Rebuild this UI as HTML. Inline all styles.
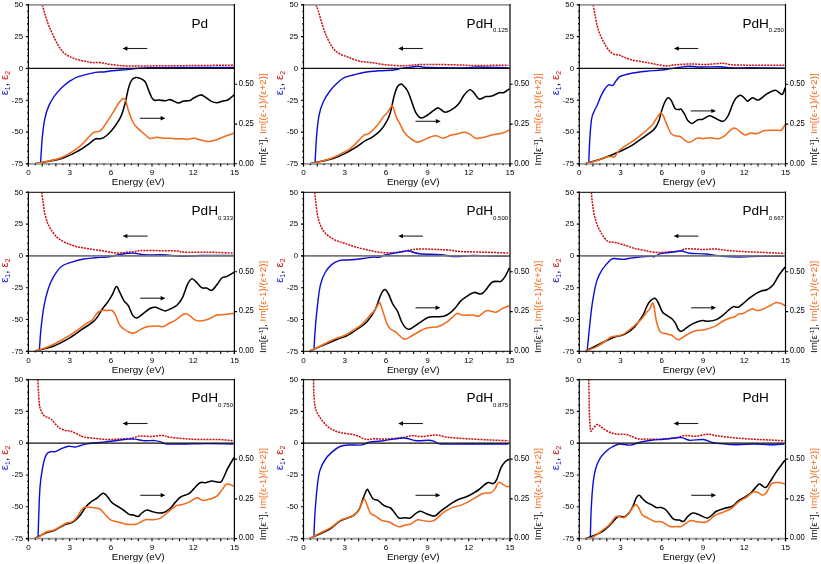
<!DOCTYPE html>
<html><head><meta charset="utf-8"><style>
html,body{margin:0;padding:0;background:#fff;}
svg{display:block;will-change:transform;}
</style></head><body>
<svg width="821" height="564" viewBox="0 0 821 564" font-family='"Liberation Sans", sans-serif' fill="#000">
<rect width="821" height="564" fill="#fff"/>
<path d="M42.3,5.0 C43.2,7.9 46.0,17.9 47.6,22.6 C49.2,27.3 50.4,29.3 52.1,33.1 C53.9,36.9 56.2,42.0 58.1,45.2 C60.0,48.4 61.5,50.4 63.2,52.2 C64.9,54.0 66.7,55.0 68.5,56.0 C70.3,57.0 71.7,57.6 73.8,58.4 C75.9,59.1 79.2,60.0 81.3,60.5 C83.4,61.0 84.8,61.1 86.6,61.5 C88.4,61.9 89.7,62.4 91.9,62.6 C94.1,62.8 96.8,62.3 99.9,62.6 C103.1,62.9 106.2,63.9 110.8,64.5 C115.4,65.1 120.8,65.8 127.4,66.0 C134.0,66.2 140.2,66.0 150.6,65.9 C161.0,65.8 176.1,65.7 190.0,65.6 C203.9,65.5 226.7,65.2 234.0,65.1" fill="none" stroke="#cc0a0a" stroke-width="1.5" stroke-dasharray="2 1"/>
<path d="M40.6,162.6 C40.9,158.4 41.6,144.6 42.3,137.3 C43.0,130.0 43.7,124.1 44.8,118.8 C45.9,113.5 47.3,109.3 49.0,105.4 C50.7,101.5 52.8,98.2 54.9,95.3 C57.0,92.3 59.2,90.1 61.7,87.7 C64.2,85.3 67.3,82.7 70.1,80.9 C72.9,79.1 74.3,78.1 78.5,76.7 C82.7,75.3 91.1,73.2 95.3,72.4 C99.5,71.6 101.0,72.3 103.8,72.0 C106.6,71.7 108.3,71.2 112.2,70.8 C116.1,70.4 121.0,70.1 127.3,69.6 C133.6,69.1 132.2,68.1 150.0,67.8 C167.8,67.5 220.0,67.5 234.0,67.5" fill="none" stroke="#0d0dd8" stroke-width="1.4" />
<path d="M35.6,163.4 C40.0,162.6 54.6,160.5 61.7,158.4 C68.9,156.3 74.0,153.2 78.5,150.8 C83.0,148.4 85.8,146.1 88.6,144.1 C91.4,142.1 93.3,139.9 95.3,139.0 C97.3,138.1 98.7,139.1 100.4,138.7 C102.1,138.3 103.4,138.0 105.4,136.5 C107.4,135.0 109.7,133.0 112.2,129.8 C114.7,126.6 118.5,121.4 120.6,117.1 C122.7,112.8 123.7,108.5 125.0,103.7 C126.3,98.9 127.3,92.4 128.4,88.5 C129.5,84.6 130.4,81.9 131.7,80.1 C132.9,78.3 134.5,77.9 135.9,77.6 C137.3,77.3 138.6,77.7 140.2,78.4 C141.8,79.1 143.8,79.8 145.2,81.8 C146.6,83.8 147.5,87.5 148.6,90.2 C149.7,92.9 150.9,96.1 151.9,97.8 C152.9,99.5 153.4,99.9 154.5,100.3 C155.6,100.7 156.9,99.9 158.7,100.0 C160.5,100.1 163.6,100.9 165.4,100.8 C167.2,100.7 168.2,99.5 169.6,99.6 C171.0,99.6 172.3,100.5 173.8,101.1 C175.3,101.7 176.8,103.0 178.5,103.0 C180.2,103.0 182.0,101.5 183.9,101.1 C185.8,100.7 188.1,101.1 189.8,100.6 C191.5,100.0 192.2,98.8 194.0,97.8 C195.8,96.8 199.0,95.1 200.8,94.9 C202.6,94.8 203.3,95.9 205.0,96.9 C206.7,97.9 208.9,100.1 210.9,101.1 C212.9,102.1 214.9,102.8 216.8,102.8 C218.8,102.8 220.8,101.6 222.6,101.1 C224.4,100.6 225.8,101.0 227.7,100.0 C229.6,99.0 233.0,95.8 234.1,94.9" fill="none" stroke="#000" stroke-width="1.55" />
<path d="M35.6,163.4 C37.1,163.1 40.4,162.8 44.8,161.8 C49.1,160.8 56.1,159.9 61.7,157.5 C67.3,155.1 74.0,150.8 78.5,147.4 C83.0,144.0 86.1,139.8 88.6,137.3 C91.1,134.8 92.0,133.3 93.7,132.3 C95.4,131.3 97.3,132.0 98.7,131.4 C100.1,130.8 99.8,131.8 102.1,128.9 C104.3,126.0 109.4,118.2 112.2,113.8 C115.0,109.4 117.1,105.3 118.9,102.8 C120.7,100.3 122.0,99.0 123.1,98.6 C124.2,98.2 124.7,98.3 125.6,100.3 C126.5,102.3 127.1,106.6 128.4,110.4 C129.7,114.2 131.7,119.9 133.4,123.0 C135.1,126.1 136.5,126.9 138.5,128.9 C140.5,130.9 143.4,133.2 145.2,134.8 C147.0,136.4 148.3,137.6 149.4,138.2 C150.5,138.8 150.6,138.3 151.9,138.2 C153.2,138.0 155.0,137.3 157.0,137.3 C159.0,137.3 161.4,138.0 163.7,138.2 C165.9,138.3 168.5,138.1 170.5,138.2 C172.5,138.3 173.6,138.9 175.5,139.0 C177.4,139.1 180.2,138.6 182.2,138.7 C184.2,138.8 185.3,139.5 187.3,139.4 C189.3,139.3 191.8,138.1 194.0,138.2 C196.2,138.3 198.4,139.3 200.8,139.9 C203.2,140.5 205.8,141.5 208.3,141.5 C210.8,141.5 213.2,140.7 215.9,139.9 C218.6,139.1 221.3,137.6 224.3,136.5 C227.3,135.4 232.5,133.7 234.1,133.1" fill="none" stroke="#f26a1b" stroke-width="1.55" />
<line x1="25.9" y1="4.85" x2="234.4" y2="4.85" stroke="#999" stroke-width="1.7"/>
<line x1="25.9" y1="163.85" x2="234.4" y2="163.85" stroke="#999" stroke-width="1.6"/>
<line x1="25.9" y1="68.45" x2="234.4" y2="68.45" stroke="#111" stroke-width="1.2"/>
<line x1="28.4" y1="4.0" x2="28.4" y2="166.5" stroke="#000" stroke-width="1.2"/>
<line x1="234.4" y1="4.0" x2="234.4" y2="166.5" stroke="#000" stroke-width="1.2"/>
<path d="M25.9,4.8H28.4 M27.1,11.2H28.4 M27.1,17.6H28.4 M27.1,23.9H28.4 M27.1,30.3H28.4 M25.9,36.6H28.4 M27.1,43.0H28.4 M27.1,49.4H28.4 M27.1,55.7H28.4 M27.1,62.1H28.4 M25.9,68.5H28.4 M27.1,74.8H28.4 M27.1,81.2H28.4 M27.1,87.5H28.4 M27.1,93.9H28.4 M25.9,100.2H28.4 M27.1,106.6H28.4 M27.1,113.0H28.4 M27.1,119.3H28.4 M27.1,125.7H28.4 M25.9,132.1H28.4 M27.1,138.4H28.4 M27.1,144.8H28.4 M27.1,151.1H28.4 M27.1,157.5H28.4 M25.9,163.8H28.4 M28.4,163.8V166.4 M35.3,163.8V165.2 M42.2,163.8V166.4 M49.0,163.8V165.2 M55.9,163.8V166.4 M62.8,163.8V165.2 M69.7,163.8V166.4 M76.5,163.8V165.2 M83.4,163.8V166.4 M90.2,163.8V165.2 M97.1,163.8V166.4 M104.0,163.8V165.2 M110.9,163.8V166.4 M117.7,163.8V165.2 M124.6,163.8V166.4 M131.4,163.8V165.2 M138.3,163.8V166.4 M145.2,163.8V165.2 M152.0,163.8V166.4 M158.9,163.8V165.2 M165.8,163.8V166.4 M172.6,163.8V165.2 M179.5,163.8V166.4 M186.4,163.8V165.2 M193.2,163.8V166.4 M200.1,163.8V165.2 M207.0,163.8V166.4 M213.8,163.8V165.2 M220.7,163.8V166.4 M227.6,163.8V165.2 M234.4,163.8V166.4 M234.4,163.8H237.1 M234.4,124.1H237.1 M234.4,84.3H237.1" stroke="#000" stroke-width="1.1" fill="none"/>
<text x="23.1" y="7.0" text-anchor="end" font-size="7.8">50</text>
<text x="23.1" y="38.9" text-anchor="end" font-size="7.8">25</text>
<text x="23.1" y="70.7" text-anchor="end" font-size="7.8">0</text>
<text x="23.1" y="102.5" text-anchor="end" font-size="7.8">-25</text>
<text x="23.1" y="134.2" text-anchor="end" font-size="7.8">-50</text>
<text x="23.1" y="166.0" text-anchor="end" font-size="7.8">-75</text>
<text x="28.4" y="175.2" text-anchor="middle" font-size="8.1">0</text>
<text x="69.7" y="175.2" text-anchor="middle" font-size="8.1">3</text>
<text x="110.9" y="175.2" text-anchor="middle" font-size="8.1">6</text>
<text x="152.0" y="175.2" text-anchor="middle" font-size="8.1">9</text>
<text x="193.2" y="175.2" text-anchor="middle" font-size="8.1">12</text>
<text x="234.4" y="175.2" text-anchor="middle" font-size="8.1">15</text>
<text x="238.8" y="165.7" font-size="8.2" textLength="15.0" lengthAdjust="spacingAndGlyphs">0.00</text>
<text x="238.8" y="125.9" font-size="8.2" textLength="15.0" lengthAdjust="spacingAndGlyphs">0.25</text>
<text x="238.8" y="86.1" font-size="8.2" textLength="15.0" lengthAdjust="spacingAndGlyphs">0.50</text>
<text x="138.2" y="185.4" text-anchor="middle" font-size="9.9">Energy (eV)</text>
<text transform="translate(7.8,83.1) rotate(-90)" text-anchor="middle" font-size="11.5"><tspan fill="#0d0dd8">&#949;<tspan font-size="7" dy="1.8">1</tspan></tspan><tspan dy="-1.8">, </tspan><tspan fill="#cc0a0a">&#949;<tspan font-size="7" dy="1.8">2</tspan></tspan></text>
<text transform="translate(265.8,119.4) rotate(-90)" text-anchor="middle" font-size="9.8">Im[&#949;<tspan font-size="6" dy="-3">-1</tspan><tspan dy="3">], </tspan><tspan fill="#f26a1b">Im[(&#949;-1)/(&#949;+2)]</tspan></text>
<text x="191.5" y="27.5" font-size="13.6">Pd</text>
<line x1="147.3" y1="48.5" x2="125.6" y2="48.5" stroke="#222" stroke-width="1.1"/>
<path d="M122.6,48.5 L127.4,46.3 L127.4,50.7 Z" fill="#000"/>
<line x1="139.8" y1="118.3" x2="162.4" y2="118.3" stroke="#222" stroke-width="1.1"/>
<path d="M165.4,118.3 L160.6,116.1 L160.6,120.5 Z" fill="#000"/>
<path d="M315.8,5.0 C316.2,5.9 317.0,7.1 318.1,10.5 C319.2,13.9 321.1,21.1 322.6,25.6 C324.1,30.1 325.4,33.9 327.1,37.7 C328.9,41.5 331.1,45.6 333.1,48.2 C335.1,50.8 336.6,52.0 339.1,53.5 C341.6,55.0 344.9,56.0 348.2,57.2 C351.5,58.5 354.9,60.1 358.7,61.0 C362.5,61.9 366.3,61.9 370.8,62.5 C375.3,63.1 380.5,64.2 385.8,64.8 C391.1,65.3 398.5,65.7 402.4,65.8 C406.3,65.9 406.1,65.7 409.0,65.5 C411.9,65.3 414.8,64.7 419.6,64.5 C424.4,64.3 430.9,64.4 437.7,64.5 C444.5,64.6 453.9,64.8 460.2,65.0 C466.5,65.2 467.3,65.5 475.3,65.5 C483.3,65.5 502.9,65.2 508.4,65.2" fill="none" stroke="#cc0a0a" stroke-width="1.5" stroke-dasharray="2 1"/>
<path d="M315.1,162.3 C315.3,158.1 315.9,145.1 316.5,137.3 C317.1,129.5 317.9,121.4 319.0,115.5 C320.1,109.6 321.4,106.1 323.2,102.0 C325.0,97.9 327.6,94.1 329.9,91.0 C332.1,87.9 334.3,85.7 336.7,83.5 C339.1,81.3 341.4,79.0 344.2,77.6 C347.0,76.2 350.3,75.8 353.5,75.0 C356.7,74.2 359.4,73.2 363.6,72.5 C367.8,71.8 373.8,71.2 378.8,70.8 C383.9,70.4 390.0,70.5 393.9,70.0 C397.8,69.5 399.9,68.5 402.4,68.1 C404.9,67.7 406.4,67.8 409.0,67.5 C411.6,67.2 415.2,66.3 418.0,66.3 C420.8,66.3 421.1,67.0 425.6,67.3 C430.1,67.5 438.2,67.7 445.2,67.8 C452.2,67.9 462.5,67.9 467.8,67.8 C473.1,67.7 470.0,67.0 476.8,67.0 C483.6,67.0 503.1,67.7 508.4,67.8" fill="none" stroke="#0d0dd8" stroke-width="1.4" />
<path d="M310.6,163.5 C314.4,162.7 327.3,160.2 333.3,158.4 C339.3,156.6 342.9,154.5 346.8,152.5 C350.7,150.5 353.8,148.6 356.9,146.6 C360.0,144.6 362.8,142.2 365.3,140.7 C367.8,139.1 369.5,139.0 372.0,137.3 C374.5,135.6 377.9,133.4 380.4,130.6 C382.9,127.8 385.5,123.6 387.2,120.5 C388.9,117.4 389.4,116.0 390.5,112.1 C391.6,108.2 392.8,101.1 393.9,96.9 C395.0,92.7 396.2,88.9 397.3,86.8 C398.4,84.7 399.4,84.6 400.3,84.3 C401.2,84.0 401.3,83.7 402.5,84.8 C403.7,85.9 406.1,88.1 407.6,91.0 C409.2,93.9 410.4,98.3 411.8,102.0 C413.2,105.7 414.5,110.2 416.0,112.9 C417.5,115.6 419.2,117.6 421.0,118.0 C422.8,118.4 424.8,116.8 426.9,115.5 C429.0,114.2 431.8,111.7 433.7,110.4 C435.6,109.1 436.6,107.6 438.4,107.9 C440.2,108.2 442.6,111.7 444.6,112.1 C446.6,112.5 448.2,111.7 450.5,110.4 C452.8,109.1 455.9,107.0 458.1,104.5 C460.4,102.0 462.1,97.7 464.0,95.3 C465.9,92.9 467.9,90.5 469.4,89.9 C470.9,89.3 471.6,90.4 473.2,91.9 C474.8,93.4 477.0,98.2 479.1,99.0 C481.2,99.8 483.8,97.1 485.9,96.6 C488.0,96.1 489.6,96.8 491.8,96.1 C494.0,95.4 497.4,93.3 499.3,92.7 C501.2,92.1 501.8,93.3 503.5,92.7 C505.2,92.1 508.4,89.5 509.4,88.9" fill="none" stroke="#000" stroke-width="1.55" />
<path d="M310.6,163.5 C312.1,163.2 316.0,162.8 319.8,161.8 C323.6,160.8 329.4,159.1 333.3,157.5 C337.2,155.9 340.9,153.8 343.4,152.5 C345.9,151.2 346.5,151.4 348.5,150.0 C350.5,148.6 352.7,146.5 355.2,144.1 C357.7,141.7 361.2,137.5 363.6,135.7 C366.0,133.9 367.2,134.8 369.5,133.1 C371.8,131.4 374.7,128.4 377.1,125.6 C379.5,122.8 382.1,118.4 383.8,116.3 C385.5,114.2 385.9,114.6 387.2,112.9 C388.5,111.2 390.4,107.2 391.4,106.2 C392.4,105.2 392.3,105.2 393.1,107.0 C393.9,108.8 395.2,114.3 396.4,117.1 C397.5,119.9 398.7,121.4 400.0,123.9 C401.3,126.4 402.5,129.9 404.2,132.3 C405.9,134.7 408.0,136.6 410.1,138.2 C412.2,139.8 414.6,141.8 416.8,142.1 C419.1,142.4 421.4,140.8 423.6,139.9 C425.9,139.1 428.2,137.7 430.3,137.0 C432.4,136.3 434.1,135.5 436.2,135.7 C438.3,135.9 440.5,138.3 442.9,138.2 C445.3,138.1 448.1,136.0 450.5,135.3 C452.9,134.6 454.9,134.5 457.2,134.0 C459.4,133.5 462.0,132.4 464.0,132.3 C466.0,132.2 467.0,132.6 469.0,133.6 C471.0,134.6 473.3,137.6 475.8,138.2 C478.3,138.8 481.4,137.9 484.2,137.3 C487.0,136.7 489.5,135.5 492.6,134.8 C495.7,134.1 499.9,133.9 502.7,133.1 C505.5,132.3 508.3,130.4 509.4,129.8" fill="none" stroke="#f26a1b" stroke-width="1.55" />
<line x1="301.0" y1="4.85" x2="510.0" y2="4.85" stroke="#999" stroke-width="1.7"/>
<line x1="301.0" y1="163.85" x2="510.0" y2="163.85" stroke="#999" stroke-width="1.6"/>
<line x1="301.0" y1="68.45" x2="510.0" y2="68.45" stroke="#111" stroke-width="1.2"/>
<line x1="303.5" y1="4.0" x2="303.5" y2="166.5" stroke="#000" stroke-width="1.2"/>
<line x1="510.0" y1="4.0" x2="510.0" y2="166.5" stroke="#000" stroke-width="1.2"/>
<path d="M301.0,4.8H303.5 M302.2,11.2H303.5 M302.2,17.6H303.5 M302.2,23.9H303.5 M302.2,30.3H303.5 M301.0,36.6H303.5 M302.2,43.0H303.5 M302.2,49.4H303.5 M302.2,55.7H303.5 M302.2,62.1H303.5 M301.0,68.5H303.5 M302.2,74.8H303.5 M302.2,81.2H303.5 M302.2,87.5H303.5 M302.2,93.9H303.5 M301.0,100.2H303.5 M302.2,106.6H303.5 M302.2,113.0H303.5 M302.2,119.3H303.5 M302.2,125.7H303.5 M301.0,132.1H303.5 M302.2,138.4H303.5 M302.2,144.8H303.5 M302.2,151.1H303.5 M302.2,157.5H303.5 M301.0,163.8H303.5 M303.5,163.8V166.4 M310.4,163.8V165.2 M317.3,163.8V166.4 M324.1,163.8V165.2 M331.0,163.8V166.4 M337.9,163.8V165.2 M344.8,163.8V166.4 M351.7,163.8V165.2 M358.6,163.8V166.4 M365.4,163.8V165.2 M372.3,163.8V166.4 M379.2,163.8V165.2 M386.1,163.8V166.4 M393.0,163.8V165.2 M399.9,163.8V166.4 M406.8,163.8V165.2 M413.6,163.8V166.4 M420.5,163.8V165.2 M427.4,163.8V166.4 M434.3,163.8V165.2 M441.2,163.8V166.4 M448.1,163.8V165.2 M454.9,163.8V166.4 M461.8,163.8V165.2 M468.7,163.8V166.4 M475.6,163.8V165.2 M482.5,163.8V166.4 M489.4,163.8V165.2 M496.2,163.8V166.4 M503.1,163.8V165.2 M510.0,163.8V166.4 M510.0,163.8H512.7 M510.0,124.1H512.7 M510.0,84.3H512.7" stroke="#000" stroke-width="1.1" fill="none"/>
<text x="298.2" y="7.0" text-anchor="end" font-size="7.8">50</text>
<text x="298.2" y="38.9" text-anchor="end" font-size="7.8">25</text>
<text x="298.2" y="70.7" text-anchor="end" font-size="7.8">0</text>
<text x="298.2" y="102.5" text-anchor="end" font-size="7.8">-25</text>
<text x="298.2" y="134.2" text-anchor="end" font-size="7.8">-50</text>
<text x="298.2" y="166.0" text-anchor="end" font-size="7.8">-75</text>
<text x="303.5" y="175.2" text-anchor="middle" font-size="8.1">0</text>
<text x="344.8" y="175.2" text-anchor="middle" font-size="8.1">3</text>
<text x="386.1" y="175.2" text-anchor="middle" font-size="8.1">6</text>
<text x="427.4" y="175.2" text-anchor="middle" font-size="8.1">9</text>
<text x="468.7" y="175.2" text-anchor="middle" font-size="8.1">12</text>
<text x="510.0" y="175.2" text-anchor="middle" font-size="8.1">15</text>
<text x="514.3" y="165.7" font-size="8.2" textLength="15.0" lengthAdjust="spacingAndGlyphs">0.00</text>
<text x="514.3" y="125.9" font-size="8.2" textLength="15.0" lengthAdjust="spacingAndGlyphs">0.25</text>
<text x="514.3" y="86.1" font-size="8.2" textLength="15.0" lengthAdjust="spacingAndGlyphs">0.50</text>
<text x="413.3" y="185.4" text-anchor="middle" font-size="9.9">Energy (eV)</text>
<text transform="translate(282.9,83.1) rotate(-90)" text-anchor="middle" font-size="11.5"><tspan fill="#0d0dd8">&#949;<tspan font-size="7" dy="1.8">1</tspan></tspan><tspan dy="-1.8">, </tspan><tspan fill="#cc0a0a">&#949;<tspan font-size="7" dy="1.8">2</tspan></tspan></text>
<text transform="translate(541.4,119.4) rotate(-90)" text-anchor="middle" font-size="9.8">Im[&#949;<tspan font-size="6" dy="-3">-1</tspan><tspan dy="3">], </tspan><tspan fill="#f26a1b">Im[(&#949;-1)/(&#949;+2)]</tspan></text>
<text x="466.6" y="27.5" font-size="13.6">PdH<tspan font-size="6" dy="4.8">0.125</tspan></text>
<line x1="422.9" y1="48.5" x2="401.2" y2="48.5" stroke="#222" stroke-width="1.1"/>
<path d="M398.2,48.5 L403.0,46.3 L403.0,50.7 Z" fill="#000"/>
<line x1="415.5" y1="121.3" x2="437.7" y2="121.3" stroke="#222" stroke-width="1.1"/>
<path d="M440.7,121.3 L435.9,119.1 L435.9,123.5 Z" fill="#000"/>
<path d="M593.3,5.0 C593.5,6.4 594.2,10.2 594.8,13.6 C595.4,17.0 596.2,22.1 597.1,25.6 C598.0,29.1 598.9,31.6 600.1,34.6 C601.4,37.6 603.1,41.1 604.6,43.7 C606.1,46.4 607.6,48.8 609.1,50.5 C610.6,52.2 612.0,53.5 613.6,54.2 C615.2,55.0 617.1,54.5 618.9,55.0 C620.7,55.5 622.1,56.4 624.2,57.2 C626.3,58.0 628.7,59.1 631.7,59.9 C634.7,60.6 638.5,61.0 642.3,61.7 C646.1,62.4 650.3,63.3 654.3,64.0 C658.3,64.7 663.3,65.6 666.3,65.8 C669.3,66.0 670.3,65.3 672.4,65.1 C674.5,64.9 675.9,64.7 679.0,64.5 C682.1,64.3 686.6,64.0 691.1,64.0 C695.6,64.0 700.8,64.6 706.1,64.5 C711.4,64.4 718.4,63.2 722.7,63.3 C727.0,63.3 726.9,64.5 731.7,64.8 C736.5,65.1 742.5,65.1 751.3,65.2 C760.1,65.3 778.9,65.2 784.4,65.2" fill="none" stroke="#cc0a0a" stroke-width="1.5" stroke-dasharray="2 1"/>
<path d="M588.8,161.8 C589.0,157.7 589.4,144.5 589.9,137.3 C590.4,130.1 590.9,123.2 591.6,118.8 C592.3,114.4 593.2,113.6 594.2,111.2 C595.2,108.8 596.4,107.0 597.5,104.5 C598.6,102.0 599.6,98.8 600.9,96.1 C602.2,93.4 603.8,90.4 605.1,88.5 C606.4,86.6 607.2,85.3 608.5,84.8 C609.8,84.3 611.5,86.2 612.7,85.5 C614.0,84.8 614.8,82.4 616.0,80.9 C617.2,79.4 618.0,77.6 620.2,76.4 C622.5,75.2 625.1,74.6 629.5,73.7 C633.9,72.8 640.8,71.9 646.3,71.3 C651.8,70.7 656.8,70.6 662.3,70.0 C667.8,69.4 674.7,68.1 679.0,67.5 C683.3,66.9 684.7,66.4 688.0,66.3 C691.3,66.2 693.1,66.9 698.6,67.0 C704.1,67.1 716.2,66.6 721.2,66.7 C726.2,66.8 723.7,67.6 728.7,67.8 C733.7,68.0 742.0,67.8 751.3,67.8 C760.6,67.8 778.9,68.0 784.4,68.1" fill="none" stroke="#0d0dd8" stroke-width="1.4" />
<path d="M585.7,163.5 C588.6,162.6 599.1,159.6 603.3,158.2 C607.5,156.8 608.6,156.3 611.0,155.3 C613.4,154.3 615.5,153.3 617.8,152.3 C620.1,151.3 622.0,150.6 624.6,149.3 C627.2,148.0 630.4,146.4 633.2,144.6 C636.1,142.8 639.5,140.1 641.7,138.6 C643.9,137.1 644.6,136.5 646.3,135.3 C648.0,134.1 650.5,132.5 652.0,131.2 C653.5,129.9 654.3,129.3 655.5,127.5 C656.7,125.7 658.0,123.2 659.0,120.5 C660.0,117.8 660.5,114.3 661.5,111.2 C662.5,108.1 663.8,104.2 664.9,102.0 C666.0,99.8 667.1,98.0 668.2,97.8 C669.3,97.6 670.5,99.3 671.6,101.1 C672.7,102.9 673.8,107.0 675.0,108.4 C676.2,109.8 678.0,109.5 679.0,109.6 C680.0,109.7 680.2,108.4 681.1,109.1 C682.0,109.8 683.3,111.9 684.4,113.8 C685.5,115.7 686.5,118.9 687.8,120.5 C689.1,122.1 690.3,123.6 692.0,123.5 C693.7,123.4 696.1,120.4 697.9,119.7 C699.7,119.0 700.9,119.9 702.9,119.2 C704.9,118.5 707.5,115.9 709.7,115.8 C712.0,115.7 714.2,117.9 716.4,118.8 C718.6,119.7 721.1,121.8 723.1,121.3 C725.1,120.8 726.4,118.9 728.2,115.5 C730.0,112.1 732.1,104.5 734.1,101.1 C736.1,97.7 738.3,95.8 740.0,95.3 C741.7,94.8 743.0,96.8 744.2,97.8 C745.5,98.8 746.1,101.1 747.5,101.1 C748.9,101.1 750.8,98.0 752.6,97.8 C754.4,97.6 756.1,100.7 758.5,100.0 C760.9,99.3 764.1,95.5 766.9,93.9 C769.7,92.3 772.8,90.1 775.3,90.2 C777.8,90.3 780.5,94.8 782.1,94.4 C783.7,94.0 784.6,88.8 785.1,87.7" fill="none" stroke="#000" stroke-width="1.55" />
<path d="M585.7,163.5 C587.2,163.1 592.1,161.9 594.8,161.2 C597.4,160.5 599.5,159.8 601.6,159.1 C603.7,158.4 606.0,157.2 607.6,156.8 C609.2,156.4 609.9,156.4 611.0,156.4 C612.1,156.4 613.1,157.3 614.0,157.0 C614.9,156.7 615.3,155.8 616.1,154.8 C616.9,153.8 617.3,152.4 618.7,151.0 C620.1,149.6 622.2,148.0 624.6,146.3 C627.0,144.6 630.4,142.8 633.2,140.8 C636.1,138.8 639.2,136.4 641.7,134.4 C644.2,132.4 646.1,130.8 648.0,129.0 C649.9,127.2 651.6,125.9 653.1,123.9 C654.6,121.9 656.0,118.9 657.3,117.1 C658.6,115.3 659.7,113.2 660.7,112.9 C661.7,112.6 662.2,113.7 663.2,115.5 C664.2,117.3 665.2,121.0 666.5,123.9 C667.8,126.8 669.4,131.1 670.8,133.1 C672.2,135.1 673.4,135.1 675.0,135.7 C676.6,136.3 677.9,135.4 680.2,136.5 C682.5,137.6 685.8,142.1 688.6,142.4 C691.4,142.7 694.6,138.8 697.0,138.2 C699.4,137.6 700.8,138.8 702.9,138.7 C705.0,138.6 707.0,137.7 709.7,137.7 C712.4,137.7 716.4,139.0 718.9,138.7 C721.4,138.4 722.5,137.4 724.8,135.7 C727.0,134.0 730.4,129.7 732.4,128.6 C734.4,127.5 734.6,127.9 736.6,128.9 C738.6,129.9 741.8,134.1 744.2,134.8 C746.6,135.5 748.8,133.3 750.9,133.1 C753.0,132.9 754.4,134.0 756.8,133.6 C759.2,133.2 761.8,131.1 765.2,130.6 C768.6,130.1 774.3,130.4 777.0,130.3 C779.7,130.2 779.9,131.2 781.2,130.3 C782.6,129.4 784.5,125.6 785.1,124.7" fill="none" stroke="#f26a1b" stroke-width="1.55" />
<line x1="576.8" y1="4.85" x2="785.5" y2="4.85" stroke="#999" stroke-width="1.7"/>
<line x1="576.8" y1="163.85" x2="785.5" y2="163.85" stroke="#999" stroke-width="1.6"/>
<line x1="576.8" y1="68.45" x2="785.5" y2="68.45" stroke="#111" stroke-width="1.2"/>
<line x1="579.3" y1="4.0" x2="579.3" y2="166.5" stroke="#000" stroke-width="1.2"/>
<line x1="785.5" y1="4.0" x2="785.5" y2="166.5" stroke="#000" stroke-width="1.2"/>
<path d="M576.8,4.8H579.3 M578.0,11.2H579.3 M578.0,17.6H579.3 M578.0,23.9H579.3 M578.0,30.3H579.3 M576.8,36.6H579.3 M578.0,43.0H579.3 M578.0,49.4H579.3 M578.0,55.7H579.3 M578.0,62.1H579.3 M576.8,68.5H579.3 M578.0,74.8H579.3 M578.0,81.2H579.3 M578.0,87.5H579.3 M578.0,93.9H579.3 M576.8,100.2H579.3 M578.0,106.6H579.3 M578.0,113.0H579.3 M578.0,119.3H579.3 M578.0,125.7H579.3 M576.8,132.1H579.3 M578.0,138.4H579.3 M578.0,144.8H579.3 M578.0,151.1H579.3 M578.0,157.5H579.3 M576.8,163.8H579.3 M579.3,163.8V166.4 M586.2,163.8V165.2 M593.0,163.8V166.4 M599.9,163.8V165.2 M606.8,163.8V166.4 M613.7,163.8V165.2 M620.5,163.8V166.4 M627.4,163.8V165.2 M634.3,163.8V166.4 M641.2,163.8V165.2 M648.0,163.8V166.4 M654.9,163.8V165.2 M661.8,163.8V166.4 M668.7,163.8V165.2 M675.5,163.8V166.4 M682.4,163.8V165.2 M689.3,163.8V166.4 M696.1,163.8V165.2 M703.0,163.8V166.4 M709.9,163.8V165.2 M716.8,163.8V166.4 M723.6,163.8V165.2 M730.5,163.8V166.4 M737.4,163.8V165.2 M744.3,163.8V166.4 M751.1,163.8V165.2 M758.0,163.8V166.4 M764.9,163.8V165.2 M771.8,163.8V166.4 M778.6,163.8V165.2 M785.5,163.8V166.4 M785.5,163.8H788.2 M785.5,124.1H788.2 M785.5,84.3H788.2" stroke="#000" stroke-width="1.1" fill="none"/>
<text x="574.0" y="7.0" text-anchor="end" font-size="7.8">50</text>
<text x="574.0" y="38.9" text-anchor="end" font-size="7.8">25</text>
<text x="574.0" y="70.7" text-anchor="end" font-size="7.8">0</text>
<text x="574.0" y="102.5" text-anchor="end" font-size="7.8">-25</text>
<text x="574.0" y="134.2" text-anchor="end" font-size="7.8">-50</text>
<text x="574.0" y="166.0" text-anchor="end" font-size="7.8">-75</text>
<text x="579.3" y="175.2" text-anchor="middle" font-size="8.1">0</text>
<text x="620.5" y="175.2" text-anchor="middle" font-size="8.1">3</text>
<text x="661.8" y="175.2" text-anchor="middle" font-size="8.1">6</text>
<text x="703.0" y="175.2" text-anchor="middle" font-size="8.1">9</text>
<text x="744.3" y="175.2" text-anchor="middle" font-size="8.1">12</text>
<text x="785.5" y="175.2" text-anchor="middle" font-size="8.1">15</text>
<text x="789.8" y="165.7" font-size="8.2" textLength="15.0" lengthAdjust="spacingAndGlyphs">0.00</text>
<text x="789.8" y="125.9" font-size="8.2" textLength="15.0" lengthAdjust="spacingAndGlyphs">0.25</text>
<text x="789.8" y="86.1" font-size="8.2" textLength="15.0" lengthAdjust="spacingAndGlyphs">0.50</text>
<text x="689.1" y="185.4" text-anchor="middle" font-size="9.9">Energy (eV)</text>
<text transform="translate(558.7,83.1) rotate(-90)" text-anchor="middle" font-size="11.5"><tspan fill="#0d0dd8">&#949;<tspan font-size="7" dy="1.8">1</tspan></tspan><tspan dy="-1.8">, </tspan><tspan fill="#cc0a0a">&#949;<tspan font-size="7" dy="1.8">2</tspan></tspan></text>
<text transform="translate(816.9,119.4) rotate(-90)" text-anchor="middle" font-size="9.8">Im[&#949;<tspan font-size="6" dy="-3">-1</tspan><tspan dy="3">], </tspan><tspan fill="#f26a1b">Im[(&#949;-1)/(&#949;+2)]</tspan></text>
<text x="742.4" y="27.5" font-size="13.6">PdH<tspan font-size="6" dy="4.8">0.250</tspan></text>
<line x1="698.3" y1="48.5" x2="676.9" y2="48.5" stroke="#222" stroke-width="1.1"/>
<path d="M673.9,48.5 L678.7,46.3 L678.7,50.7 Z" fill="#000"/>
<line x1="690.8" y1="110.9" x2="713.1" y2="110.9" stroke="#222" stroke-width="1.1"/>
<path d="M716.1,110.9 L711.3,108.7 L711.3,113.1 Z" fill="#000"/>
<path d="M41.6,192.3 C41.9,193.9 42.6,198.7 43.1,202.1 C43.6,205.5 43.9,209.1 44.6,212.6 C45.4,216.1 46.4,220.0 47.6,223.1 C48.9,226.2 50.4,228.9 52.1,231.4 C53.9,233.9 55.8,236.3 58.1,238.2 C60.4,240.1 62.7,241.3 65.7,242.7 C68.7,244.1 72.5,245.5 76.2,246.5 C80.0,247.5 83.7,247.9 88.2,248.7 C92.7,249.4 98.5,250.3 103.3,251.0 C108.1,251.7 112.8,252.8 116.9,253.0 C121.0,253.2 125.2,252.3 128.0,252.1 C130.8,251.9 132.0,252.1 134.0,251.8 C136.0,251.6 135.3,250.8 140.1,250.6 C144.9,250.4 156.4,250.6 162.7,250.7 C169.0,250.8 174.2,250.8 177.7,251.0 C181.2,251.2 178.7,251.9 183.7,252.1 C188.7,252.3 199.5,252.0 207.8,252.2 C216.1,252.3 229.1,252.9 233.4,253.0" fill="none" stroke="#cc0a0a" stroke-width="1.5" stroke-dasharray="2 1"/>
<path d="M39.4,349.6 C39.7,346.0 40.3,335.0 41.1,327.7 C41.9,320.4 42.8,312.2 44.0,305.8 C45.2,299.4 46.7,293.8 48.2,289.0 C49.8,284.2 51.0,281.0 53.3,277.2 C55.5,273.4 58.6,268.8 61.7,266.3 C64.8,263.8 68.2,263.3 71.8,262.1 C75.4,260.9 79.7,259.7 83.6,259.0 C87.5,258.3 90.8,258.2 95.3,257.8 C99.8,257.4 106.4,257.1 110.5,256.5 C114.6,255.9 117.1,255.0 120.0,254.5 C122.9,254.0 125.4,253.5 128.0,253.3 C130.6,253.1 132.7,253.1 135.5,253.3 C138.3,253.6 140.1,254.6 144.6,254.8 C149.1,255.1 156.4,254.6 162.7,254.8 C169.0,255.1 175.9,256.2 182.2,256.3 C188.5,256.4 191.8,255.6 200.3,255.5 C208.8,255.4 227.9,255.5 233.4,255.5" fill="none" stroke="#0d0dd8" stroke-width="1.4" />
<path d="M34.7,351.0 C37.8,350.2 47.7,348.3 53.3,346.2 C58.9,344.1 63.6,341.4 68.4,338.6 C73.2,335.8 78.0,332.0 81.9,329.4 C85.8,326.8 89.5,324.7 92.0,322.7 C94.5,320.7 95.3,319.9 97.0,317.6 C98.7,315.4 100.3,311.9 102.1,309.2 C103.9,306.5 106.3,304.0 108.0,301.6 C109.7,299.2 110.8,297.4 112.2,294.9 C113.6,292.4 115.1,286.9 116.4,286.5 C117.7,286.1 118.5,290.0 119.8,292.4 C121.1,294.8 122.6,298.6 124.0,300.8 C125.4,303.0 127.0,303.4 128.4,305.8 C129.8,308.2 131.2,313.1 132.6,315.1 C134.0,317.1 135.0,318.2 136.8,317.9 C138.6,317.6 141.2,315.0 143.5,313.4 C145.8,311.8 148.3,309.3 150.3,308.3 C152.3,307.3 153.6,307.1 155.3,307.2 C157.0,307.3 158.7,308.6 160.4,309.2 C162.1,309.8 163.7,310.9 165.4,310.9 C167.1,310.8 168.5,309.9 170.5,308.9 C172.5,307.9 175.2,306.8 177.2,305.0 C179.1,303.2 180.5,301.6 182.2,298.2 C183.9,294.8 185.8,288.0 187.3,284.8 C188.9,281.6 190.1,279.5 191.5,278.9 C192.9,278.3 194.0,279.9 195.7,281.4 C197.4,282.8 199.8,286.5 201.6,287.6 C203.4,288.7 204.9,287.7 206.6,288.1 C208.3,288.6 210.0,290.9 211.7,290.3 C213.4,289.8 215.1,286.9 216.8,284.8 C218.5,282.8 220.1,279.4 221.8,278.0 C223.5,276.6 224.9,277.4 226.9,276.4 C228.9,275.4 232.9,272.9 234.1,272.2" fill="none" stroke="#000" stroke-width="1.55" />
<path d="M34.7,351.0 C36.4,350.5 41.4,349.1 44.8,347.9 C48.2,346.7 51.0,345.7 54.9,343.7 C58.8,341.7 64.5,338.5 68.4,336.1 C72.3,333.7 75.7,331.4 78.5,329.4 C81.3,327.4 83.0,325.9 85.2,324.3 C87.5,322.8 90.0,321.9 92.0,320.1 C94.0,318.3 95.5,315.0 97.0,313.4 C98.5,311.8 99.5,311.0 101.2,310.5 C102.9,310.0 105.3,310.5 107.1,310.5 C108.9,310.5 110.8,309.7 112.2,310.5 C113.6,311.3 114.2,312.7 115.5,315.1 C116.8,317.6 118.3,322.8 119.8,325.2 C121.3,327.6 123.0,328.4 124.5,329.5 C126.0,330.6 127.1,331.4 128.5,332.0 C129.9,332.6 131.6,333.2 132.9,333.2 C134.2,333.2 135.2,332.6 136.5,332.0 C137.8,331.4 138.6,330.3 140.5,329.4 C142.4,328.5 145.2,327.2 148.2,326.6 C151.2,326.0 155.8,326.0 158.4,326.0 C161.0,326.0 161.8,327.0 163.5,326.6 C165.2,326.2 166.8,324.6 168.8,323.5 C170.8,322.4 173.0,321.7 175.5,320.1 C178.0,318.5 181.7,314.7 183.9,313.9 C186.2,313.1 187.3,314.2 189.0,315.1 C190.7,316.0 192.3,318.3 194.0,319.3 C195.7,320.3 196.8,320.9 199.1,321.0 C201.3,321.1 204.6,320.6 207.5,319.6 C210.4,318.6 214.0,315.9 216.8,315.1 C219.6,314.3 221.4,314.9 224.3,314.6 C227.2,314.3 232.5,313.6 234.1,313.4" fill="none" stroke="#f26a1b" stroke-width="1.55" />
<line x1="25.9" y1="192.30" x2="234.4" y2="192.30" stroke="#333" stroke-width="1.2"/>
<line x1="25.9" y1="351.30" x2="234.4" y2="351.30" stroke="#333" stroke-width="1.2"/>
<line x1="25.9" y1="255.90" x2="234.4" y2="255.90" stroke="#777" stroke-width="1.6"/>
<line x1="28.4" y1="191.5" x2="28.4" y2="354.0" stroke="#000" stroke-width="1.2"/>
<line x1="234.4" y1="191.5" x2="234.4" y2="354.0" stroke="#000" stroke-width="1.2"/>
<path d="M25.9,192.3H28.4 M27.1,198.7H28.4 M27.1,205.0H28.4 M27.1,211.4H28.4 M27.1,217.7H28.4 M25.9,224.1H28.4 M27.1,230.5H28.4 M27.1,236.8H28.4 M27.1,243.2H28.4 M27.1,249.5H28.4 M25.9,255.9H28.4 M27.1,262.3H28.4 M27.1,268.6H28.4 M27.1,275.0H28.4 M27.1,281.3H28.4 M25.9,287.7H28.4 M27.1,294.1H28.4 M27.1,300.4H28.4 M27.1,306.8H28.4 M27.1,313.1H28.4 M25.9,319.5H28.4 M27.1,325.9H28.4 M27.1,332.2H28.4 M27.1,338.6H28.4 M27.1,344.9H28.4 M25.9,351.3H28.4 M28.4,351.3V353.9 M35.3,351.3V352.6 M42.2,351.3V353.9 M49.0,351.3V352.6 M55.9,351.3V353.9 M62.8,351.3V352.6 M69.7,351.3V353.9 M76.5,351.3V352.6 M83.4,351.3V353.9 M90.2,351.3V352.6 M97.1,351.3V353.9 M104.0,351.3V352.6 M110.9,351.3V353.9 M117.7,351.3V352.6 M124.6,351.3V353.9 M131.4,351.3V352.6 M138.3,351.3V353.9 M145.2,351.3V352.6 M152.0,351.3V353.9 M158.9,351.3V352.6 M165.8,351.3V353.9 M172.6,351.3V352.6 M179.5,351.3V353.9 M186.4,351.3V352.6 M193.2,351.3V353.9 M200.1,351.3V352.6 M207.0,351.3V353.9 M213.8,351.3V352.6 M220.7,351.3V353.9 M227.6,351.3V352.6 M234.4,351.3V353.9 M234.4,351.3H237.1 M234.4,311.6H237.1 M234.4,271.8H237.1" stroke="#000" stroke-width="1.1" fill="none"/>
<text x="23.1" y="194.5" text-anchor="end" font-size="7.8">50</text>
<text x="23.1" y="226.3" text-anchor="end" font-size="7.8">25</text>
<text x="23.1" y="258.1" text-anchor="end" font-size="7.8">0</text>
<text x="23.1" y="289.9" text-anchor="end" font-size="7.8">-25</text>
<text x="23.1" y="321.7" text-anchor="end" font-size="7.8">-50</text>
<text x="23.1" y="353.5" text-anchor="end" font-size="7.8">-75</text>
<text x="28.4" y="362.7" text-anchor="middle" font-size="8.1">0</text>
<text x="69.7" y="362.7" text-anchor="middle" font-size="8.1">3</text>
<text x="110.9" y="362.7" text-anchor="middle" font-size="8.1">6</text>
<text x="152.0" y="362.7" text-anchor="middle" font-size="8.1">9</text>
<text x="193.2" y="362.7" text-anchor="middle" font-size="8.1">12</text>
<text x="234.4" y="362.7" text-anchor="middle" font-size="8.1">15</text>
<text x="238.8" y="353.1" font-size="8.2" textLength="15.0" lengthAdjust="spacingAndGlyphs">0.00</text>
<text x="238.8" y="313.4" font-size="8.2" textLength="15.0" lengthAdjust="spacingAndGlyphs">0.25</text>
<text x="238.8" y="273.6" font-size="8.2" textLength="15.0" lengthAdjust="spacingAndGlyphs">0.50</text>
<text x="138.2" y="372.9" text-anchor="middle" font-size="9.9">Energy (eV)</text>
<text transform="translate(7.8,270.6) rotate(-90)" text-anchor="middle" font-size="11.5"><tspan fill="#0d0dd8">&#949;<tspan font-size="7" dy="1.8">1</tspan></tspan><tspan dy="-1.8">, </tspan><tspan fill="#cc0a0a">&#949;<tspan font-size="7" dy="1.8">2</tspan></tspan></text>
<text transform="translate(265.8,306.9) rotate(-90)" text-anchor="middle" font-size="9.8">Im[&#949;<tspan font-size="6" dy="-3">-1</tspan><tspan dy="3">], </tspan><tspan fill="#f26a1b">Im[(&#949;-1)/(&#949;+2)]</tspan></text>
<text x="191.5" y="215.0" font-size="13.6">PdH<tspan font-size="6" dy="4.8">0.333</tspan></text>
<line x1="147.6" y1="236.1" x2="125.6" y2="236.1" stroke="#222" stroke-width="1.1"/>
<path d="M122.6,236.1 L127.4,233.9 L127.4,238.3 Z" fill="#000"/>
<line x1="140.2" y1="298.2" x2="162.4" y2="298.2" stroke="#222" stroke-width="1.1"/>
<path d="M165.4,298.2 L160.6,296.0 L160.6,300.4 Z" fill="#000"/>
<path d="M314.7,192.3 C314.9,193.9 315.4,198.5 315.8,202.1 C316.2,205.7 316.7,210.6 317.3,214.1 C317.9,217.6 318.6,220.3 319.6,223.1 C320.6,225.9 321.8,228.5 323.3,230.7 C324.8,232.8 326.5,234.4 328.6,236.0 C330.7,237.6 333.3,239.2 336.1,240.5 C338.9,241.8 341.9,242.4 345.2,243.5 C348.5,244.6 351.9,245.9 355.7,247.0 C359.5,248.1 363.5,249.1 367.8,250.0 C372.1,250.9 376.5,252.1 381.3,252.5 C386.1,252.9 392.8,252.7 396.4,252.5 C400.0,252.3 401.1,251.8 403.0,251.5 C404.9,251.2 405.0,251.0 407.5,250.6 C410.0,250.2 413.1,249.2 418.1,249.0 C423.1,248.8 432.7,249.3 437.7,249.5 C442.7,249.7 444.4,249.7 448.2,250.0 C451.9,250.3 454.4,251.1 460.2,251.5 C466.0,251.9 474.8,251.9 482.8,252.2 C490.8,252.4 504.1,252.9 508.4,253.0" fill="none" stroke="#cc0a0a" stroke-width="1.5" stroke-dasharray="2 1"/>
<path d="M313.9,349.6 C314.2,345.4 314.9,332.7 315.6,324.3 C316.3,315.9 317.4,305.8 318.2,299.1 C319.0,292.4 319.6,288.2 320.7,283.9 C321.8,279.5 323.1,276.2 324.9,273.0 C326.7,269.8 329.1,266.7 331.6,264.6 C334.1,262.5 337.2,261.2 340.0,260.4 C342.8,259.6 344.3,260.3 348.2,260.0 C352.1,259.7 358.9,259.0 363.2,258.5 C367.5,258.0 371.1,257.2 373.8,257.0 C376.5,256.8 377.4,257.6 379.1,257.3 C380.9,257.0 381.9,255.8 384.3,255.1 C386.7,254.4 390.3,253.9 393.4,253.3 C396.5,252.7 400.4,251.9 403.0,251.5 C405.6,251.1 406.2,250.6 409.0,251.0 C411.8,251.4 414.3,253.1 419.6,253.7 C424.9,254.3 434.7,254.3 440.7,254.8 C446.7,255.3 450.4,256.5 455.7,256.6 C461.0,256.7 466.0,255.6 472.3,255.5 C478.6,255.4 487.4,255.9 493.4,256.0 C499.4,256.1 505.9,256.2 508.4,256.3" fill="none" stroke="#0d0dd8" stroke-width="1.4" />
<path d="M309.7,351.0 C314.2,349.1 330.5,342.0 336.7,339.5 C342.9,337.0 343.4,337.5 346.8,335.8 C350.2,334.1 353.5,331.7 356.9,329.4 C360.3,327.1 363.9,325.2 367.0,321.8 C370.1,318.4 373.2,313.6 375.4,309.2 C377.6,304.8 378.9,299.0 380.4,295.7 C381.9,292.4 383.2,289.8 384.6,289.5 C386.0,289.2 387.2,291.7 388.5,294.0 C389.8,296.3 391.0,300.6 392.5,303.5 C394.0,306.4 396.1,308.5 397.6,311.5 C399.1,314.5 400.2,318.8 401.5,321.5 C402.8,324.2 404.0,326.2 405.3,327.5 C406.6,328.8 407.7,329.4 409.1,329.3 C410.5,329.2 411.6,328.1 413.5,326.9 C415.4,325.7 417.7,323.9 420.2,322.3 C422.7,320.7 426.1,318.2 428.6,317.3 C431.1,316.4 432.9,317.0 435.4,316.8 C437.9,316.6 441.3,317.0 443.8,316.3 C446.3,315.6 448.5,314.1 450.5,312.6 C452.5,311.1 453.9,309.4 455.6,307.5 C457.3,305.6 458.7,303.0 460.6,301.1 C462.6,299.2 465.1,297.6 467.3,296.1 C469.6,294.7 471.9,292.8 474.1,292.4 C476.4,292.0 478.8,294.4 480.8,294.0 C482.8,293.6 484.1,291.8 485.9,289.8 C487.7,287.9 489.9,283.7 491.8,282.3 C493.8,280.9 496.1,281.5 497.6,281.4 C499.1,281.2 499.7,282.2 501.0,281.4 C502.3,280.6 503.8,278.6 505.2,276.4 C506.6,274.1 508.7,269.3 509.4,267.9" fill="none" stroke="#000" stroke-width="1.55" />
<path d="M309.7,351.0 C311.4,350.2 316.7,347.7 319.8,346.2 C322.9,344.7 325.5,343.4 328.3,342.0 C331.1,340.6 333.9,339.2 336.7,338.1 C339.5,337.0 342.3,336.6 345.1,335.3 C347.9,334.0 350.7,332.0 353.5,330.2 C356.3,328.4 359.1,326.8 361.9,324.3 C364.7,321.8 368.1,317.6 370.3,315.1 C372.6,312.6 374.0,311.2 375.4,309.2 C376.8,307.2 378.0,304.1 378.8,303.3 C379.6,302.5 379.6,302.3 380.4,304.1 C381.2,305.9 382.7,310.8 383.8,314.2 C384.9,317.6 386.1,321.8 387.2,324.3 C388.3,326.8 389.1,327.7 390.5,329.0 C391.9,330.3 394.0,330.7 395.6,331.9 C397.2,333.1 398.4,334.8 400.0,336.0 C401.6,337.2 402.9,339.4 405.1,339.2 C407.4,339.0 410.1,336.6 413.5,334.8 C416.9,333.0 421.1,329.9 425.3,328.5 C429.5,327.1 435.1,327.5 438.7,326.4 C442.3,325.3 444.7,323.4 447.1,321.8 C449.5,320.2 451.3,318.2 453.0,316.8 C454.7,315.4 455.6,313.7 457.2,313.4 C458.8,313.1 459.8,314.8 462.3,315.1 C464.8,315.4 469.7,314.9 472.4,315.1 C475.1,315.3 476.6,316.6 478.3,316.3 C480.0,316.0 481.0,314.4 482.5,313.4 C484.0,312.4 485.2,310.7 487.5,310.5 C489.8,310.3 493.5,312.6 496.0,312.2 C498.5,311.8 500.5,309.4 502.7,308.3 C504.9,307.2 508.3,306.2 509.4,305.8" fill="none" stroke="#f26a1b" stroke-width="1.55" />
<line x1="301.0" y1="192.30" x2="510.0" y2="192.30" stroke="#333" stroke-width="1.2"/>
<line x1="301.0" y1="351.30" x2="510.0" y2="351.30" stroke="#333" stroke-width="1.2"/>
<line x1="301.0" y1="255.90" x2="510.0" y2="255.90" stroke="#777" stroke-width="1.6"/>
<line x1="303.5" y1="191.5" x2="303.5" y2="354.0" stroke="#000" stroke-width="1.2"/>
<line x1="510.0" y1="191.5" x2="510.0" y2="354.0" stroke="#000" stroke-width="1.2"/>
<path d="M301.0,192.3H303.5 M302.2,198.7H303.5 M302.2,205.0H303.5 M302.2,211.4H303.5 M302.2,217.7H303.5 M301.0,224.1H303.5 M302.2,230.5H303.5 M302.2,236.8H303.5 M302.2,243.2H303.5 M302.2,249.5H303.5 M301.0,255.9H303.5 M302.2,262.3H303.5 M302.2,268.6H303.5 M302.2,275.0H303.5 M302.2,281.3H303.5 M301.0,287.7H303.5 M302.2,294.1H303.5 M302.2,300.4H303.5 M302.2,306.8H303.5 M302.2,313.1H303.5 M301.0,319.5H303.5 M302.2,325.9H303.5 M302.2,332.2H303.5 M302.2,338.6H303.5 M302.2,344.9H303.5 M301.0,351.3H303.5 M303.5,351.3V353.9 M310.4,351.3V352.6 M317.3,351.3V353.9 M324.1,351.3V352.6 M331.0,351.3V353.9 M337.9,351.3V352.6 M344.8,351.3V353.9 M351.7,351.3V352.6 M358.6,351.3V353.9 M365.4,351.3V352.6 M372.3,351.3V353.9 M379.2,351.3V352.6 M386.1,351.3V353.9 M393.0,351.3V352.6 M399.9,351.3V353.9 M406.8,351.3V352.6 M413.6,351.3V353.9 M420.5,351.3V352.6 M427.4,351.3V353.9 M434.3,351.3V352.6 M441.2,351.3V353.9 M448.1,351.3V352.6 M454.9,351.3V353.9 M461.8,351.3V352.6 M468.7,351.3V353.9 M475.6,351.3V352.6 M482.5,351.3V353.9 M489.4,351.3V352.6 M496.2,351.3V353.9 M503.1,351.3V352.6 M510.0,351.3V353.9 M510.0,351.3H512.7 M510.0,311.6H512.7 M510.0,271.8H512.7" stroke="#000" stroke-width="1.1" fill="none"/>
<text x="298.2" y="194.5" text-anchor="end" font-size="7.8">50</text>
<text x="298.2" y="226.3" text-anchor="end" font-size="7.8">25</text>
<text x="298.2" y="258.1" text-anchor="end" font-size="7.8">0</text>
<text x="298.2" y="289.9" text-anchor="end" font-size="7.8">-25</text>
<text x="298.2" y="321.7" text-anchor="end" font-size="7.8">-50</text>
<text x="298.2" y="353.5" text-anchor="end" font-size="7.8">-75</text>
<text x="303.5" y="362.7" text-anchor="middle" font-size="8.1">0</text>
<text x="344.8" y="362.7" text-anchor="middle" font-size="8.1">3</text>
<text x="386.1" y="362.7" text-anchor="middle" font-size="8.1">6</text>
<text x="427.4" y="362.7" text-anchor="middle" font-size="8.1">9</text>
<text x="468.7" y="362.7" text-anchor="middle" font-size="8.1">12</text>
<text x="510.0" y="362.7" text-anchor="middle" font-size="8.1">15</text>
<text x="514.3" y="353.1" font-size="8.2" textLength="15.0" lengthAdjust="spacingAndGlyphs">0.00</text>
<text x="514.3" y="313.4" font-size="8.2" textLength="15.0" lengthAdjust="spacingAndGlyphs">0.25</text>
<text x="514.3" y="273.6" font-size="8.2" textLength="15.0" lengthAdjust="spacingAndGlyphs">0.50</text>
<text x="413.3" y="372.9" text-anchor="middle" font-size="9.9">Energy (eV)</text>
<text transform="translate(282.9,270.6) rotate(-90)" text-anchor="middle" font-size="11.5"><tspan fill="#0d0dd8">&#949;<tspan font-size="7" dy="1.8">1</tspan></tspan><tspan dy="-1.8">, </tspan><tspan fill="#cc0a0a">&#949;<tspan font-size="7" dy="1.8">2</tspan></tspan></text>
<text transform="translate(541.4,306.9) rotate(-90)" text-anchor="middle" font-size="9.8">Im[&#949;<tspan font-size="6" dy="-3">-1</tspan><tspan dy="3">], </tspan><tspan fill="#f26a1b">Im[(&#949;-1)/(&#949;+2)]</tspan></text>
<text x="466.6" y="215.0" font-size="13.6">PdH<tspan font-size="6" dy="4.8">0.500</tspan></text>
<line x1="422.9" y1="236.1" x2="401.2" y2="236.1" stroke="#222" stroke-width="1.1"/>
<path d="M398.2,236.1 L403.0,233.9 L403.0,238.3 Z" fill="#000"/>
<line x1="415.5" y1="307.8" x2="437.4" y2="307.8" stroke="#222" stroke-width="1.1"/>
<path d="M440.4,307.8 L435.6,305.6 L435.6,310.0 Z" fill="#000"/>
<path d="M591.3,192.3 C591.5,193.9 591.8,198.5 592.3,202.1 C592.8,205.7 593.3,210.3 594.1,214.1 C594.9,217.9 595.9,221.4 597.1,224.7 C598.4,228.0 599.9,230.9 601.6,233.7 C603.4,236.4 605.4,239.8 607.6,241.2 C609.9,242.6 612.3,241.8 615.1,242.4 C617.9,243.0 621.2,244.1 624.2,245.0 C627.2,245.9 629.9,247.1 633.2,248.0 C636.5,248.9 639.8,249.6 643.8,250.3 C647.8,251.1 653.0,252.2 657.3,252.5 C661.6,252.8 665.8,252.0 669.4,251.8 C673.0,251.6 676.6,251.8 679.0,251.4 C681.4,251.0 682.0,249.9 683.5,249.5 C685.0,249.1 684.7,248.7 688.0,248.7 C691.3,248.7 698.6,249.4 703.1,249.5 C707.6,249.6 710.9,248.8 715.2,249.0 C719.5,249.2 723.2,250.1 728.7,250.6 C734.2,251.1 739.0,251.4 748.3,251.8 C757.6,252.2 778.4,253.1 784.4,253.3" fill="none" stroke="#cc0a0a" stroke-width="1.5" stroke-dasharray="2 1"/>
<path d="M587.2,350.5 C587.7,345.8 589.1,330.8 590.0,322.5 C590.9,314.2 591.7,307.3 592.7,300.7 C593.8,294.1 595.1,287.1 596.3,282.6 C597.5,278.1 598.4,276.5 599.9,273.6 C601.4,270.7 603.4,267.8 605.4,265.4 C607.4,263.0 609.9,260.2 611.7,259.1 C613.5,258.0 614.2,258.6 616.2,258.7 C618.2,258.8 621.2,259.5 623.5,259.4 C625.8,259.3 627.4,258.6 630.0,258.2 C632.6,257.8 635.7,257.3 639.2,257.0 C642.8,256.7 648.8,256.4 651.3,256.3 C653.8,256.2 652.8,257.1 654.3,256.7 C655.8,256.3 657.8,254.4 660.3,253.7 C662.8,253.0 666.3,252.9 669.4,252.5 C672.5,252.1 676.9,251.2 679.0,251.0 C681.1,250.8 680.2,250.6 682.0,251.0 C683.8,251.4 685.6,252.8 689.6,253.3 C693.6,253.8 700.6,253.5 706.1,254.0 C711.6,254.5 717.2,255.8 722.7,256.3 C728.2,256.8 733.0,257.0 739.3,257.0 C745.6,257.0 752.8,256.4 760.3,256.3 C767.8,256.2 780.4,256.3 784.4,256.3" fill="none" stroke="#0d0dd8" stroke-width="1.4" />
<path d="M585.7,351.0 C590.2,348.8 606.2,340.6 612.7,337.8 C619.2,335.0 620.9,336.2 624.5,334.4 C628.1,332.6 631.5,330.1 634.6,326.9 C637.7,323.7 641.0,318.3 643.0,315.1 C645.0,311.9 645.2,309.8 646.3,307.5 C647.4,305.2 648.3,303.2 649.7,301.6 C651.1,300.1 653.4,298.1 654.8,298.2 C656.2,298.3 656.9,300.2 658.1,302.5 C659.4,304.8 660.9,309.6 662.3,311.7 C663.7,313.8 664.8,313.8 666.5,315.1 C668.2,316.4 670.8,317.8 672.4,319.3 C674.0,320.8 675.0,322.6 676.0,324.3 C677.0,326.0 677.5,328.6 678.5,329.7 C679.5,330.8 680.1,331.8 681.9,331.1 C683.7,330.4 687.1,327.2 689.5,325.7 C691.9,324.2 694.0,323.1 696.2,322.3 C698.4,321.5 700.9,320.8 702.9,320.6 C704.9,320.4 705.8,321.5 708.0,321.3 C710.2,321.1 713.9,320.6 716.4,319.6 C718.9,318.6 721.1,316.6 723.1,315.1 C725.1,313.6 726.5,311.9 728.2,310.5 C729.9,309.1 731.5,307.2 733.2,306.7 C734.9,306.1 736.6,307.8 738.3,307.2 C740.0,306.6 741.3,304.9 743.3,303.3 C745.3,301.7 747.9,299.4 750.1,297.7 C752.4,296.0 754.8,294.4 756.8,293.2 C758.8,292.0 760.2,291.3 761.9,290.7 C763.6,290.1 765.1,290.7 766.9,289.8 C768.7,288.9 770.8,287.7 772.8,285.3 C774.8,282.9 776.7,278.5 778.7,275.5 C780.8,272.5 784.0,268.5 785.1,267.1" fill="none" stroke="#000" stroke-width="1.55" />
<path d="M585.7,351.0 C587.4,350.4 592.7,348.6 595.8,347.1 C598.9,345.6 601.8,343.7 604.3,342.0 C606.8,340.3 608.8,338.0 611.0,337.0 C613.2,336.0 615.5,336.4 617.7,335.8 C620.0,335.2 622.0,335.1 624.5,333.6 C627.0,332.1 630.1,329.3 632.9,326.9 C635.7,324.5 639.1,321.7 641.3,319.3 C643.5,316.9 644.9,314.3 646.3,312.6 C647.7,310.9 648.7,310.8 649.7,309.2 C650.7,307.6 651.5,303.9 652.2,303.3 C652.9,302.7 653.2,302.9 653.9,305.8 C654.6,308.8 655.4,316.8 656.4,321.0 C657.4,325.2 658.4,329.0 659.8,331.1 C661.2,333.2 662.9,332.9 664.9,333.6 C666.9,334.3 669.8,334.5 671.6,335.3 C673.5,336.1 674.7,337.9 676.0,338.6 C677.3,339.3 677.7,340.1 679.4,339.5 C681.1,338.9 683.6,336.7 686.1,335.3 C688.6,333.9 691.4,332.0 694.5,331.1 C697.6,330.2 701.2,330.5 704.6,329.7 C708.0,328.9 711.6,327.8 714.7,326.4 C717.8,324.9 720.6,322.4 723.1,321.0 C725.6,319.6 727.9,318.7 729.9,318.0 C731.9,317.3 733.4,317.5 734.9,316.8 C736.4,316.1 737.2,314.5 738.6,313.9 C740.0,313.3 741.1,314.2 743.3,313.4 C745.5,312.6 749.5,309.4 751.8,308.9 C754.0,308.4 754.8,310.5 756.8,310.5 C758.8,310.5 761.2,309.7 763.5,308.9 C765.8,308.1 768.2,306.6 770.3,305.5 C772.4,304.4 774.5,302.9 776.2,302.5 C777.9,302.1 778.9,302.8 780.4,303.3 C781.9,303.8 784.3,305.1 785.1,305.5" fill="none" stroke="#f26a1b" stroke-width="1.55" />
<line x1="576.8" y1="192.30" x2="785.5" y2="192.30" stroke="#333" stroke-width="1.2"/>
<line x1="576.8" y1="351.30" x2="785.5" y2="351.30" stroke="#333" stroke-width="1.2"/>
<line x1="576.8" y1="255.90" x2="785.5" y2="255.90" stroke="#777" stroke-width="1.6"/>
<line x1="579.3" y1="191.5" x2="579.3" y2="354.0" stroke="#000" stroke-width="1.2"/>
<line x1="785.5" y1="191.5" x2="785.5" y2="354.0" stroke="#000" stroke-width="1.2"/>
<path d="M576.8,192.3H579.3 M578.0,198.7H579.3 M578.0,205.0H579.3 M578.0,211.4H579.3 M578.0,217.7H579.3 M576.8,224.1H579.3 M578.0,230.5H579.3 M578.0,236.8H579.3 M578.0,243.2H579.3 M578.0,249.5H579.3 M576.8,255.9H579.3 M578.0,262.3H579.3 M578.0,268.6H579.3 M578.0,275.0H579.3 M578.0,281.3H579.3 M576.8,287.7H579.3 M578.0,294.1H579.3 M578.0,300.4H579.3 M578.0,306.8H579.3 M578.0,313.1H579.3 M576.8,319.5H579.3 M578.0,325.9H579.3 M578.0,332.2H579.3 M578.0,338.6H579.3 M578.0,344.9H579.3 M576.8,351.3H579.3 M579.3,351.3V353.9 M586.2,351.3V352.6 M593.0,351.3V353.9 M599.9,351.3V352.6 M606.8,351.3V353.9 M613.7,351.3V352.6 M620.5,351.3V353.9 M627.4,351.3V352.6 M634.3,351.3V353.9 M641.2,351.3V352.6 M648.0,351.3V353.9 M654.9,351.3V352.6 M661.8,351.3V353.9 M668.7,351.3V352.6 M675.5,351.3V353.9 M682.4,351.3V352.6 M689.3,351.3V353.9 M696.1,351.3V352.6 M703.0,351.3V353.9 M709.9,351.3V352.6 M716.8,351.3V353.9 M723.6,351.3V352.6 M730.5,351.3V353.9 M737.4,351.3V352.6 M744.3,351.3V353.9 M751.1,351.3V352.6 M758.0,351.3V353.9 M764.9,351.3V352.6 M771.8,351.3V353.9 M778.6,351.3V352.6 M785.5,351.3V353.9 M785.5,351.3H788.2 M785.5,311.6H788.2 M785.5,271.8H788.2" stroke="#000" stroke-width="1.1" fill="none"/>
<text x="574.0" y="194.5" text-anchor="end" font-size="7.8">50</text>
<text x="574.0" y="226.3" text-anchor="end" font-size="7.8">25</text>
<text x="574.0" y="258.1" text-anchor="end" font-size="7.8">0</text>
<text x="574.0" y="289.9" text-anchor="end" font-size="7.8">-25</text>
<text x="574.0" y="321.7" text-anchor="end" font-size="7.8">-50</text>
<text x="574.0" y="353.5" text-anchor="end" font-size="7.8">-75</text>
<text x="579.3" y="362.7" text-anchor="middle" font-size="8.1">0</text>
<text x="620.5" y="362.7" text-anchor="middle" font-size="8.1">3</text>
<text x="661.8" y="362.7" text-anchor="middle" font-size="8.1">6</text>
<text x="703.0" y="362.7" text-anchor="middle" font-size="8.1">9</text>
<text x="744.3" y="362.7" text-anchor="middle" font-size="8.1">12</text>
<text x="785.5" y="362.7" text-anchor="middle" font-size="8.1">15</text>
<text x="789.8" y="353.1" font-size="8.2" textLength="15.0" lengthAdjust="spacingAndGlyphs">0.00</text>
<text x="789.8" y="313.4" font-size="8.2" textLength="15.0" lengthAdjust="spacingAndGlyphs">0.25</text>
<text x="789.8" y="273.6" font-size="8.2" textLength="15.0" lengthAdjust="spacingAndGlyphs">0.50</text>
<text x="689.1" y="372.9" text-anchor="middle" font-size="9.9">Energy (eV)</text>
<text transform="translate(558.7,270.6) rotate(-90)" text-anchor="middle" font-size="11.5"><tspan fill="#0d0dd8">&#949;<tspan font-size="7" dy="1.8">1</tspan></tspan><tspan dy="-1.8">, </tspan><tspan fill="#cc0a0a">&#949;<tspan font-size="7" dy="1.8">2</tspan></tspan></text>
<text transform="translate(816.9,306.9) rotate(-90)" text-anchor="middle" font-size="9.8">Im[&#949;<tspan font-size="6" dy="-3">-1</tspan><tspan dy="3">], </tspan><tspan fill="#f26a1b">Im[(&#949;-1)/(&#949;+2)]</tspan></text>
<text x="742.4" y="215.0" font-size="13.6">PdH<tspan font-size="6" dy="4.8">0.667</tspan></text>
<line x1="698.3" y1="236.1" x2="676.6" y2="236.1" stroke="#222" stroke-width="1.1"/>
<path d="M673.6,236.1 L678.4,233.9 L678.4,238.3 Z" fill="#000"/>
<line x1="691.2" y1="307.8" x2="713.1" y2="307.8" stroke="#222" stroke-width="1.1"/>
<path d="M716.1,307.8 L711.3,305.6 L711.3,310.0 Z" fill="#000"/>
<path d="M37.8,379.6 C37.9,381.7 38.2,388.0 38.5,392.1 C38.8,396.2 38.9,401.1 39.3,404.1 C39.7,407.1 40.0,408.2 40.8,410.1 C41.5,412.0 42.7,414.2 43.8,415.4 C44.9,416.6 46.4,416.8 47.6,417.4 C48.9,418.0 50.0,418.1 51.3,419.2 C52.5,420.2 53.7,422.2 55.1,423.7 C56.5,425.2 57.8,427.1 59.6,428.2 C61.4,429.3 63.8,430.0 65.7,430.5 C67.6,431.0 68.9,430.6 70.9,431.2 C72.9,431.8 75.6,433.2 77.7,434.2 C79.8,435.2 80.7,436.3 83.7,437.0 C86.7,437.7 91.8,438.1 95.8,438.5 C99.8,438.9 104.0,439.4 107.8,439.5 C111.6,439.6 115.0,439.3 118.4,439.1 C121.8,438.9 125.7,438.7 128.0,438.5 C130.3,438.3 130.5,438.4 132.5,438.0 C134.5,437.6 137.1,436.2 140.1,436.0 C143.1,435.8 147.0,436.6 150.6,436.5 C154.2,436.4 158.6,435.3 161.9,435.4 C165.2,435.5 166.3,436.7 170.2,437.3 C174.1,437.9 180.2,438.4 185.2,438.8 C190.2,439.2 194.8,439.4 200.3,439.5 C205.8,439.6 212.9,439.3 218.4,439.5 C223.9,439.7 230.9,440.5 233.4,440.7" fill="none" stroke="#cc0a0a" stroke-width="1.5" stroke-dasharray="2 1"/>
<path d="M38.1,536.6 C38.2,532.4 38.6,519.7 38.9,511.3 C39.2,502.9 39.5,493.1 40.1,486.1 C40.7,479.1 41.5,473.9 42.3,469.3 C43.1,464.7 43.9,461.0 44.8,458.3 C45.7,455.6 46.5,454.2 47.6,453.1 C48.7,452.0 50.0,451.9 51.3,451.6 C52.5,451.4 53.2,452.2 55.1,451.6 C57.0,451.0 60.3,449.1 62.6,448.2 C64.9,447.3 66.7,446.5 68.7,446.3 C70.7,446.1 72.7,447.1 74.7,447.0 C76.7,446.9 78.5,446.1 80.7,445.5 C83.0,444.9 84.4,444.2 88.2,443.6 C92.0,443.0 98.3,442.7 103.3,442.1 C108.3,441.6 114.3,440.8 118.4,440.3 C122.5,439.8 125.2,439.3 128.0,439.1 C130.8,438.9 133.0,438.9 135.5,439.1 C138.0,439.4 139.8,440.4 143.1,440.6 C146.4,440.9 152.1,440.4 155.1,440.6 C158.1,440.9 159.1,441.5 161.1,442.1 C163.1,442.7 163.2,443.7 167.2,444.0 C171.2,444.3 178.4,444.1 185.2,444.0 C192.0,443.9 199.8,443.6 207.8,443.6 C215.8,443.6 229.1,443.9 233.4,444.0" fill="none" stroke="#0d0dd8" stroke-width="1.4" />
<path d="M34.7,538.5 C36.7,537.5 43.7,533.9 46.8,532.6 C49.9,531.3 50.4,532.2 53.4,530.9 C56.4,529.5 62.2,525.8 65.1,524.5 C68.0,523.2 69.3,523.6 70.9,523.0 C72.5,522.4 72.9,522.3 74.5,521.0 C76.1,519.7 78.5,517.4 80.4,515.0 C82.3,512.6 84.2,508.8 86.1,506.5 C88.0,504.2 90.2,502.6 92.0,501.2 C93.8,499.8 95.2,499.5 97.0,498.2 C98.8,496.9 101.2,493.5 102.9,493.2 C104.6,492.9 105.5,494.6 107.1,496.2 C108.6,497.8 110.2,501.1 112.2,502.9 C114.2,504.7 116.9,505.8 118.9,507.1 C120.9,508.4 122.3,509.3 124.0,510.5 C125.7,511.7 127.6,513.6 129.2,514.4 C130.8,515.1 131.9,514.7 133.4,515.0 C134.9,515.3 136.7,516.7 138.1,516.4 C139.5,516.1 140.3,514.1 141.8,513.0 C143.3,511.9 145.1,510.2 146.9,510.0 C148.7,509.8 150.8,511.2 152.8,511.7 C154.8,512.2 156.7,512.9 158.7,513.0 C160.7,513.1 162.6,513.0 164.6,512.2 C166.6,511.4 168.7,509.7 170.5,508.0 C172.3,506.3 173.8,503.9 175.5,502.1 C177.2,500.3 178.3,498.4 180.6,497.0 C182.8,495.6 186.8,495.1 189.0,493.7 C191.2,492.3 192.2,490.4 194.0,488.6 C195.8,486.8 197.9,483.7 199.9,482.7 C201.9,481.7 203.8,483.0 205.8,482.7 C207.8,482.4 209.9,481.1 211.7,481.0 C213.5,480.9 215.2,481.8 216.8,481.9 C218.4,482.0 219.8,482.9 221.0,481.9 C222.2,480.9 223.2,478.2 224.3,476.0 C225.4,473.8 226.1,471.5 227.7,468.4 C229.3,465.3 233.0,459.3 234.1,457.5" fill="none" stroke="#000" stroke-width="1.55" />
<path d="M34.7,538.5 C35.3,538.3 37.2,537.9 38.5,537.2 C39.8,536.5 40.9,535.4 42.3,534.5 C43.7,533.6 45.5,532.4 46.8,531.8 C48.1,531.2 48.9,531.2 50.0,531.0 C51.1,530.8 52.1,530.8 53.4,530.3 C54.7,529.8 56.0,529.1 58.0,528.0 C60.0,526.9 63.4,524.7 65.1,523.8 C66.8,522.9 67.0,523.0 68.0,522.8 C69.0,522.5 69.9,522.7 70.9,522.3 C71.9,521.9 72.9,521.4 73.9,520.5 C74.9,519.6 76.0,518.3 77.0,517.0 C78.0,515.7 78.9,514.0 79.7,512.8 C80.5,511.5 81.2,510.4 82.0,509.5 C82.8,508.6 83.5,507.7 84.6,507.3 C85.7,506.9 87.3,507.2 88.5,507.2 C89.7,507.2 90.2,507.2 92.0,507.5 C93.8,507.8 97.3,507.6 99.5,508.8 C101.7,510.0 103.6,512.9 105.4,514.7 C107.2,516.5 108.5,518.6 110.5,519.8 C112.5,521.0 114.8,521.1 117.2,521.8 C119.6,522.5 122.8,523.5 125.0,524.0 C127.2,524.5 128.1,524.5 130.1,524.5 C132.1,524.5 134.3,524.8 136.8,524.0 C139.3,523.2 142.4,520.5 145.2,519.8 C148.0,519.1 151.1,520.1 153.6,519.8 C156.1,519.5 158.2,519.2 160.4,518.1 C162.7,517.0 164.6,515.0 167.1,513.0 C169.6,511.0 173.0,507.4 175.5,506.0 C178.0,504.6 179.9,505.2 182.2,504.6 C184.4,504.0 186.6,503.2 189.0,502.1 C191.4,501.0 194.1,498.2 196.5,497.9 C198.9,497.6 200.9,500.3 203.3,500.4 C205.7,500.5 208.7,499.4 210.9,498.7 C213.2,498.0 215.0,497.6 216.8,496.2 C218.6,494.8 220.3,492.3 221.8,490.3 C223.3,488.3 224.6,485.4 226.0,484.4 C227.4,483.4 228.8,484.1 230.2,484.4 C231.5,484.7 233.4,486.1 234.1,486.4" fill="none" stroke="#f26a1b" stroke-width="1.55" />
<line x1="25.9" y1="379.60" x2="234.4" y2="379.60" stroke="#333" stroke-width="1.2"/>
<line x1="25.9" y1="538.60" x2="234.4" y2="538.60" stroke="#999" stroke-width="1.6"/>
<line x1="25.9" y1="443.20" x2="234.4" y2="443.20" stroke="#111" stroke-width="1.2"/>
<line x1="28.4" y1="378.8" x2="28.4" y2="541.3" stroke="#000" stroke-width="1.2"/>
<line x1="234.4" y1="378.8" x2="234.4" y2="541.3" stroke="#000" stroke-width="1.2"/>
<path d="M25.9,379.6H28.4 M27.1,386.0H28.4 M27.1,392.3H28.4 M27.1,398.7H28.4 M27.1,405.0H28.4 M25.9,411.4H28.4 M27.1,417.8H28.4 M27.1,424.1H28.4 M27.1,430.5H28.4 M27.1,436.8H28.4 M25.9,443.2H28.4 M27.1,449.6H28.4 M27.1,455.9H28.4 M27.1,462.3H28.4 M27.1,468.6H28.4 M25.9,475.0H28.4 M27.1,481.4H28.4 M27.1,487.7H28.4 M27.1,494.1H28.4 M27.1,500.4H28.4 M25.9,506.8H28.4 M27.1,513.2H28.4 M27.1,519.5H28.4 M27.1,525.9H28.4 M27.1,532.2H28.4 M25.9,538.6H28.4 M28.4,538.6V541.2 M35.3,538.6V539.9 M42.2,538.6V541.2 M49.0,538.6V539.9 M55.9,538.6V541.2 M62.8,538.6V539.9 M69.7,538.6V541.2 M76.5,538.6V539.9 M83.4,538.6V541.2 M90.2,538.6V539.9 M97.1,538.6V541.2 M104.0,538.6V539.9 M110.9,538.6V541.2 M117.7,538.6V539.9 M124.6,538.6V541.2 M131.4,538.6V539.9 M138.3,538.6V541.2 M145.2,538.6V539.9 M152.0,538.6V541.2 M158.9,538.6V539.9 M165.8,538.6V541.2 M172.6,538.6V539.9 M179.5,538.6V541.2 M186.4,538.6V539.9 M193.2,538.6V541.2 M200.1,538.6V539.9 M207.0,538.6V541.2 M213.8,538.6V539.9 M220.7,538.6V541.2 M227.6,538.6V539.9 M234.4,538.6V541.2 M234.4,538.6H237.1 M234.4,498.9H237.1 M234.4,459.1H237.1" stroke="#000" stroke-width="1.1" fill="none"/>
<text x="23.1" y="381.8" text-anchor="end" font-size="7.8">50</text>
<text x="23.1" y="413.6" text-anchor="end" font-size="7.8">25</text>
<text x="23.1" y="445.4" text-anchor="end" font-size="7.8">0</text>
<text x="23.1" y="477.2" text-anchor="end" font-size="7.8">-25</text>
<text x="23.1" y="509.0" text-anchor="end" font-size="7.8">-50</text>
<text x="23.1" y="540.8" text-anchor="end" font-size="7.8">-75</text>
<text x="28.4" y="550.0" text-anchor="middle" font-size="8.1">0</text>
<text x="69.7" y="550.0" text-anchor="middle" font-size="8.1">3</text>
<text x="110.9" y="550.0" text-anchor="middle" font-size="8.1">6</text>
<text x="152.0" y="550.0" text-anchor="middle" font-size="8.1">9</text>
<text x="193.2" y="550.0" text-anchor="middle" font-size="8.1">12</text>
<text x="234.4" y="550.0" text-anchor="middle" font-size="8.1">15</text>
<text x="238.8" y="540.4" font-size="8.2" textLength="15.0" lengthAdjust="spacingAndGlyphs">0.00</text>
<text x="238.8" y="500.7" font-size="8.2" textLength="15.0" lengthAdjust="spacingAndGlyphs">0.25</text>
<text x="238.8" y="460.9" font-size="8.2" textLength="15.0" lengthAdjust="spacingAndGlyphs">0.50</text>
<text x="138.2" y="560.2" text-anchor="middle" font-size="9.9">Energy (eV)</text>
<text transform="translate(7.8,457.9) rotate(-90)" text-anchor="middle" font-size="11.5"><tspan fill="#0d0dd8">&#949;<tspan font-size="7" dy="1.8">1</tspan></tspan><tspan dy="-1.8">, </tspan><tspan fill="#cc0a0a">&#949;<tspan font-size="7" dy="1.8">2</tspan></tspan></text>
<text transform="translate(265.8,494.2) rotate(-90)" text-anchor="middle" font-size="9.8">Im[&#949;<tspan font-size="6" dy="-3">-1</tspan><tspan dy="3">], </tspan><tspan fill="#f26a1b">Im[(&#949;-1)/(&#949;+2)]</tspan></text>
<text x="191.5" y="402.3" font-size="13.6">PdH<tspan font-size="6" dy="4.8">0.750</tspan></text>
<line x1="147.6" y1="423.5" x2="125.6" y2="423.5" stroke="#222" stroke-width="1.1"/>
<path d="M122.6,423.5 L127.4,421.3 L127.4,425.7 Z" fill="#000"/>
<line x1="140.2" y1="495.3" x2="162.4" y2="495.3" stroke="#222" stroke-width="1.1"/>
<path d="M165.4,495.3 L160.6,493.1 L160.6,497.5 Z" fill="#000"/>
<path d="M313.5,379.6 C313.6,381.7 313.6,388.0 313.8,392.1 C314.0,396.2 314.2,400.8 314.7,404.1 C315.2,407.4 315.5,409.2 316.6,411.7 C317.7,414.2 319.4,416.8 321.1,419.2 C322.9,421.6 325.1,424.2 327.1,426.0 C329.1,427.8 330.8,428.9 333.1,430.0 C335.4,431.1 337.7,432.0 340.7,432.7 C343.7,433.4 348.4,433.7 351.2,434.2 C353.9,434.7 355.2,435.0 357.2,435.7 C359.2,436.4 361.4,437.9 363.2,438.5 C365.0,439.1 366.0,439.4 367.8,439.5 C369.6,439.6 370.8,438.9 373.8,438.8 C376.8,438.7 380.9,439.3 385.8,439.1 C390.7,438.9 398.6,438.1 403.0,437.5 C407.4,436.9 408.7,435.9 412.0,435.7 C415.3,435.5 418.6,436.6 422.6,436.5 C426.6,436.4 431.8,434.9 436.1,435.0 C440.4,435.1 442.9,436.7 448.2,437.3 C453.5,437.9 460.8,438.4 467.8,438.8 C474.8,439.2 483.6,439.7 490.4,440.0 C497.2,440.3 505.4,440.6 508.4,440.7" fill="none" stroke="#cc0a0a" stroke-width="1.5" stroke-dasharray="2 1"/>
<path d="M313.9,536.6 C314.1,532.4 314.5,519.7 315.1,511.3 C315.7,502.9 316.5,492.8 317.3,486.1 C318.1,479.4 318.5,475.2 319.8,470.9 C321.1,466.5 322.9,463.1 324.9,460.0 C326.9,456.9 329.1,454.6 331.6,452.4 C334.1,450.1 337.2,447.7 340.0,446.5 C342.8,445.3 345.1,445.2 348.5,445.0 C351.9,444.8 357.5,445.3 360.2,445.1 C362.9,444.9 363.2,444.5 364.7,444.0 C366.2,443.5 366.5,442.6 369.3,442.1 C372.1,441.6 377.3,441.5 381.3,441.0 C385.3,440.5 389.8,439.6 393.4,439.1 C397.0,438.6 400.6,438.1 403.0,438.0 C405.4,437.9 405.2,438.1 407.5,438.5 C409.8,438.9 413.1,440.4 416.6,440.7 C420.1,441.0 425.6,440.2 428.6,440.3 C431.6,440.4 432.6,440.9 434.6,441.5 C436.6,442.1 435.2,443.6 440.7,444.0 C446.2,444.4 456.5,444.0 467.8,444.0 C479.1,444.0 501.6,444.0 508.4,444.0" fill="none" stroke="#0d0dd8" stroke-width="1.4" />
<path d="M309.7,538.5 C313.1,536.9 324.8,531.9 329.9,529.0 C334.9,526.1 336.1,523.4 340.0,521.1 C343.9,518.9 350.3,517.5 353.5,515.5 C356.7,513.5 357.8,511.7 359.4,508.8 C361.0,505.9 362.0,501.1 363.3,497.9 C364.6,494.7 366.0,490.4 367.0,489.5 C368.0,488.6 368.5,491.3 369.5,492.8 C370.5,494.3 371.5,497.4 372.9,498.7 C374.3,500.0 376.1,499.3 377.9,500.4 C379.7,501.5 381.7,504.1 383.8,505.4 C385.9,506.7 388.7,506.7 390.5,508.0 C392.3,509.3 393.4,511.3 394.8,513.0 C396.2,514.7 397.3,517.3 399.0,518.1 C400.7,518.9 403.2,517.7 405.1,517.7 C407.0,517.7 408.4,518.7 410.1,518.1 C411.8,517.5 413.5,515.0 415.2,513.9 C416.9,512.8 418.2,511.3 420.2,511.3 C422.1,511.3 424.5,513.1 426.9,513.9 C429.3,514.7 432.2,516.5 434.5,516.1 C436.8,515.7 438.6,512.7 440.4,511.3 C442.2,509.9 443.5,509.0 445.5,507.6 C447.5,506.2 450.0,504.3 452.2,502.9 C454.4,501.5 456.6,500.2 458.9,499.2 C461.1,498.2 463.4,497.9 465.7,497.0 C467.9,496.1 470.2,494.9 472.4,493.7 C474.6,492.4 476.6,491.3 479.1,489.5 C481.6,487.7 485.1,483.7 487.5,482.7 C489.9,481.7 491.8,484.2 493.4,483.6 C494.9,483.1 495.5,482.1 496.8,479.4 C498.1,476.7 499.6,470.6 501.0,467.6 C502.4,464.7 503.8,463.1 505.2,461.7 C506.6,460.3 508.7,459.6 509.4,459.2" fill="none" stroke="#000" stroke-width="1.55" />
<path d="M309.7,538.5 C311.4,537.6 316.4,534.9 319.8,533.2 C323.2,531.5 326.5,530.3 329.9,528.2 C333.3,526.1 337.2,522.3 340.0,520.6 C342.8,518.9 344.6,519.0 346.8,518.1 C349.1,517.2 351.5,516.8 353.5,515.5 C355.5,514.2 357.2,512.6 358.6,510.5 C360.0,508.4 360.9,504.9 361.9,502.9 C362.9,500.9 363.5,498.4 364.4,498.7 C365.2,499.0 366.0,502.2 367.0,504.6 C368.0,507.0 368.9,511.1 370.3,513.0 C371.7,514.9 373.4,514.8 375.4,516.1 C377.4,517.4 379.9,519.7 382.1,520.6 C384.4,521.5 386.6,521.0 388.9,521.8 C391.1,522.6 393.8,524.8 395.6,525.6 C397.4,526.4 398.2,526.9 399.8,526.8 C401.4,526.7 403.2,525.6 405.1,525.1 C407.0,524.6 408.8,524.9 410.9,524.0 C413.0,523.1 415.3,520.3 417.7,519.8 C420.1,519.3 422.6,521.0 425.3,521.1 C428.0,521.2 430.6,522.1 433.7,520.6 C436.8,519.1 440.7,514.4 443.8,512.2 C446.9,510.0 449.4,508.7 452.2,507.6 C455.0,506.5 457.5,506.6 460.6,505.4 C463.7,504.2 467.1,502.3 470.7,500.4 C474.3,498.4 479.1,495.0 482.5,493.7 C485.9,492.4 488.8,493.6 490.9,492.8 C493.0,492.0 493.8,490.3 495.1,488.6 C496.4,486.9 497.2,483.1 498.5,482.4 C499.8,481.6 501.4,483.4 502.7,484.1 C504.0,484.8 505.0,486.0 506.1,486.4 C507.2,486.8 508.8,486.4 509.4,486.4" fill="none" stroke="#f26a1b" stroke-width="1.55" />
<line x1="301.0" y1="379.60" x2="510.0" y2="379.60" stroke="#333" stroke-width="1.2"/>
<line x1="301.0" y1="538.60" x2="510.0" y2="538.60" stroke="#999" stroke-width="1.6"/>
<line x1="301.0" y1="443.20" x2="510.0" y2="443.20" stroke="#111" stroke-width="1.2"/>
<line x1="303.5" y1="378.8" x2="303.5" y2="541.3" stroke="#000" stroke-width="1.2"/>
<line x1="510.0" y1="378.8" x2="510.0" y2="541.3" stroke="#000" stroke-width="1.2"/>
<path d="M301.0,379.6H303.5 M302.2,386.0H303.5 M302.2,392.3H303.5 M302.2,398.7H303.5 M302.2,405.0H303.5 M301.0,411.4H303.5 M302.2,417.8H303.5 M302.2,424.1H303.5 M302.2,430.5H303.5 M302.2,436.8H303.5 M301.0,443.2H303.5 M302.2,449.6H303.5 M302.2,455.9H303.5 M302.2,462.3H303.5 M302.2,468.6H303.5 M301.0,475.0H303.5 M302.2,481.4H303.5 M302.2,487.7H303.5 M302.2,494.1H303.5 M302.2,500.4H303.5 M301.0,506.8H303.5 M302.2,513.2H303.5 M302.2,519.5H303.5 M302.2,525.9H303.5 M302.2,532.2H303.5 M301.0,538.6H303.5 M303.5,538.6V541.2 M310.4,538.6V539.9 M317.3,538.6V541.2 M324.1,538.6V539.9 M331.0,538.6V541.2 M337.9,538.6V539.9 M344.8,538.6V541.2 M351.7,538.6V539.9 M358.6,538.6V541.2 M365.4,538.6V539.9 M372.3,538.6V541.2 M379.2,538.6V539.9 M386.1,538.6V541.2 M393.0,538.6V539.9 M399.9,538.6V541.2 M406.8,538.6V539.9 M413.6,538.6V541.2 M420.5,538.6V539.9 M427.4,538.6V541.2 M434.3,538.6V539.9 M441.2,538.6V541.2 M448.1,538.6V539.9 M454.9,538.6V541.2 M461.8,538.6V539.9 M468.7,538.6V541.2 M475.6,538.6V539.9 M482.5,538.6V541.2 M489.4,538.6V539.9 M496.2,538.6V541.2 M503.1,538.6V539.9 M510.0,538.6V541.2 M510.0,538.6H512.7 M510.0,498.9H512.7 M510.0,459.1H512.7" stroke="#000" stroke-width="1.1" fill="none"/>
<text x="298.2" y="381.8" text-anchor="end" font-size="7.8">50</text>
<text x="298.2" y="413.6" text-anchor="end" font-size="7.8">25</text>
<text x="298.2" y="445.4" text-anchor="end" font-size="7.8">0</text>
<text x="298.2" y="477.2" text-anchor="end" font-size="7.8">-25</text>
<text x="298.2" y="509.0" text-anchor="end" font-size="7.8">-50</text>
<text x="298.2" y="540.8" text-anchor="end" font-size="7.8">-75</text>
<text x="303.5" y="550.0" text-anchor="middle" font-size="8.1">0</text>
<text x="344.8" y="550.0" text-anchor="middle" font-size="8.1">3</text>
<text x="386.1" y="550.0" text-anchor="middle" font-size="8.1">6</text>
<text x="427.4" y="550.0" text-anchor="middle" font-size="8.1">9</text>
<text x="468.7" y="550.0" text-anchor="middle" font-size="8.1">12</text>
<text x="510.0" y="550.0" text-anchor="middle" font-size="8.1">15</text>
<text x="514.3" y="540.4" font-size="8.2" textLength="15.0" lengthAdjust="spacingAndGlyphs">0.00</text>
<text x="514.3" y="500.7" font-size="8.2" textLength="15.0" lengthAdjust="spacingAndGlyphs">0.25</text>
<text x="514.3" y="460.9" font-size="8.2" textLength="15.0" lengthAdjust="spacingAndGlyphs">0.50</text>
<text x="413.3" y="560.2" text-anchor="middle" font-size="9.9">Energy (eV)</text>
<text transform="translate(282.9,457.9) rotate(-90)" text-anchor="middle" font-size="11.5"><tspan fill="#0d0dd8">&#949;<tspan font-size="7" dy="1.8">1</tspan></tspan><tspan dy="-1.8">, </tspan><tspan fill="#cc0a0a">&#949;<tspan font-size="7" dy="1.8">2</tspan></tspan></text>
<text transform="translate(541.4,494.2) rotate(-90)" text-anchor="middle" font-size="9.8">Im[&#949;<tspan font-size="6" dy="-3">-1</tspan><tspan dy="3">], </tspan><tspan fill="#f26a1b">Im[(&#949;-1)/(&#949;+2)]</tspan></text>
<text x="466.6" y="402.3" font-size="13.6">PdH<tspan font-size="6" dy="4.8">0.875</tspan></text>
<line x1="422.9" y1="423.5" x2="401.2" y2="423.5" stroke="#222" stroke-width="1.1"/>
<path d="M398.2,423.5 L403.0,421.3 L403.0,425.7 Z" fill="#000"/>
<line x1="415.5" y1="495.3" x2="437.4" y2="495.3" stroke="#222" stroke-width="1.1"/>
<path d="M440.4,495.3 L435.6,493.1 L435.6,497.5 Z" fill="#000"/>
<path d="M588.8,379.6 C588.8,382.4 589.0,390.5 589.1,396.6 C589.2,402.7 589.2,410.6 589.5,416.2 C589.8,421.8 590.2,428.4 590.7,430.5 C591.2,432.6 591.5,430.0 592.6,429.0 C593.7,428.0 595.6,424.8 597.1,424.5 C598.6,424.2 599.6,426.2 601.6,427.5 C603.6,428.8 606.6,430.9 609.1,432.0 C611.6,433.1 614.2,433.8 616.7,434.2 C619.2,434.6 622.0,433.9 624.2,434.2 C626.5,434.4 628.0,434.9 630.2,435.7 C632.5,436.5 634.9,438.2 637.7,438.8 C640.5,439.4 642.8,439.1 646.8,439.1 C650.8,439.2 656.9,439.4 661.8,439.1 C666.7,438.9 672.1,438.2 676.0,437.6 C679.9,437.0 681.7,435.6 685.0,435.4 C688.3,435.2 691.8,436.4 695.6,436.2 C699.4,436.0 703.8,434.2 707.6,434.2 C711.4,434.2 713.4,435.4 718.2,436.0 C723.0,436.6 729.4,437.4 736.2,438.0 C743.0,438.6 750.8,439.1 758.8,439.5 C766.8,439.9 780.1,440.5 784.4,440.7" fill="none" stroke="#cc0a0a" stroke-width="1.5" stroke-dasharray="2 1"/>
<path d="M590.4,536.6 C590.5,532.4 590.7,519.7 591.1,511.3 C591.5,502.9 592.1,493.1 592.8,486.1 C593.5,479.1 594.3,473.9 595.5,469.3 C596.7,464.7 598.1,461.4 600.0,458.3 C601.9,455.2 604.8,452.6 606.8,450.7 C608.8,448.8 609.9,448.1 612.0,447.0 C614.1,445.9 616.7,444.3 619.7,444.0 C622.7,443.7 627.0,445.4 630.2,445.1 C633.5,444.9 635.7,443.3 639.2,442.5 C642.7,441.7 647.3,440.9 651.3,440.3 C655.3,439.8 659.2,439.6 663.3,439.2 C667.4,438.8 672.9,438.3 676.0,438.0 C679.1,437.7 679.7,437.2 682.0,437.6 C684.3,438.0 686.1,440.0 689.6,440.3 C693.1,440.6 699.4,439.1 703.1,439.5 C706.9,439.9 709.1,441.8 712.1,442.5 C715.1,443.2 717.2,443.2 721.2,443.6 C725.2,444.0 730.7,444.7 736.2,444.8 C741.7,444.9 748.8,444.0 754.3,444.0 C759.8,444.0 764.4,444.8 769.4,444.8 C774.4,444.8 781.9,444.1 784.4,444.0" fill="none" stroke="#0d0dd8" stroke-width="1.4" />
<path d="M585.7,538.5 C588.2,537.5 596.7,534.8 600.9,532.4 C605.1,530.0 608.2,526.6 611.0,524.0 C613.8,521.4 615.5,517.9 617.7,516.7 C620.0,515.5 622.5,517.5 624.5,516.7 C626.5,516.0 628.0,514.2 629.5,512.2 C631.0,510.2 632.6,507.0 633.7,504.6 C634.8,502.2 635.3,499.4 636.2,497.9 C637.1,496.3 638.3,495.2 639.3,495.3 C640.3,495.4 640.9,497.1 642.1,498.2 C643.3,499.3 644.8,501.0 646.3,502.1 C647.8,503.2 649.7,503.7 651.4,504.6 C653.1,505.5 654.7,507.1 656.4,507.6 C658.1,508.1 659.8,507.1 661.5,507.6 C663.2,508.1 664.7,508.8 666.5,510.5 C668.3,512.2 670.8,516.6 672.4,518.1 C674.0,519.6 674.8,519.5 676.0,519.8 C677.2,520.1 678.1,519.8 679.4,520.1 C680.7,520.4 682.2,522.0 683.6,521.4 C685.0,520.8 686.3,517.8 687.8,516.4 C689.3,515.0 690.8,513.2 692.8,513.0 C694.8,512.8 697.2,514.1 699.6,515.0 C702.0,515.9 705.1,518.0 707.1,518.1 C709.1,518.2 709.9,516.6 711.4,515.5 C712.9,514.4 714.2,512.5 716.4,511.3 C718.6,510.1 722.1,509.1 724.8,508.3 C727.5,507.5 730.1,507.5 732.4,506.3 C734.6,505.1 736.5,502.3 738.3,500.9 C740.1,499.5 741.3,499.1 743.3,497.9 C745.3,496.7 748.1,495.3 750.1,493.7 C752.1,492.1 753.6,489.7 755.1,488.1 C756.6,486.5 758.0,484.4 759.3,484.1 C760.6,483.8 761.6,485.6 762.7,486.1 C763.8,486.7 764.8,488.2 766.1,487.4 C767.4,486.6 768.5,484.1 770.3,481.4 C772.1,478.6 774.5,474.5 777.0,470.9 C779.5,467.3 783.8,461.8 785.1,460.0" fill="none" stroke="#000" stroke-width="1.55" />
<path d="M585.7,538.5 C586.8,538.3 590.0,538.6 592.5,537.4 C595.0,536.2 598.1,533.6 600.9,531.5 C603.7,529.4 606.9,527.2 609.3,524.8 C611.7,522.4 613.7,518.6 615.2,517.2 C616.8,515.8 617.3,516.3 618.6,516.4 C619.9,516.5 621.5,517.7 622.8,517.7 C624.0,517.7 624.9,517.5 626.1,516.4 C627.4,515.3 629.0,513.0 630.3,511.3 C631.6,509.6 632.7,507.4 633.7,506.3 C634.7,505.2 635.4,504.3 636.2,504.6 C637.1,504.9 637.8,506.3 638.8,508.0 C639.8,509.7 640.9,513.2 642.1,514.7 C643.4,516.2 644.2,516.1 646.3,517.2 C648.4,518.3 652.3,520.6 654.8,521.4 C657.3,522.2 659.0,520.9 661.5,521.8 C664.0,522.6 667.5,525.7 669.9,526.5 C672.3,527.3 674.1,526.5 676.0,526.5 C677.9,526.5 679.4,527.1 681.1,526.5 C682.8,525.9 684.4,524.1 686.1,523.1 C687.8,522.1 689.2,520.8 691.2,520.6 C693.2,520.4 695.5,521.5 697.9,521.8 C700.3,522.1 703.5,522.6 705.5,522.3 C707.5,522.0 708.2,520.9 709.7,519.8 C711.2,518.7 712.5,516.8 714.7,515.5 C716.9,514.2 720.3,513.4 723.1,512.2 C725.9,511.0 729.1,510.0 731.6,508.3 C734.1,506.6 735.8,504.0 738.3,502.1 C740.8,500.2 744.2,498.7 746.7,497.0 C749.2,495.3 751.4,492.7 753.4,492.0 C755.4,491.3 757.0,492.2 758.5,492.8 C760.0,493.4 761.3,495.4 762.7,495.3 C764.1,495.2 765.5,493.9 766.9,492.0 C768.3,490.1 769.4,485.7 771.1,484.1 C772.8,482.5 775.3,482.6 777.0,482.4 C778.7,482.2 779.9,482.8 781.2,483.1 C782.6,483.4 784.5,483.9 785.1,484.1" fill="none" stroke="#f26a1b" stroke-width="1.55" />
<line x1="576.8" y1="379.60" x2="785.5" y2="379.60" stroke="#333" stroke-width="1.2"/>
<line x1="576.8" y1="538.60" x2="785.5" y2="538.60" stroke="#999" stroke-width="1.6"/>
<line x1="576.8" y1="443.20" x2="785.5" y2="443.20" stroke="#111" stroke-width="1.2"/>
<line x1="579.3" y1="378.8" x2="579.3" y2="541.3" stroke="#000" stroke-width="1.2"/>
<line x1="785.5" y1="378.8" x2="785.5" y2="541.3" stroke="#000" stroke-width="1.2"/>
<path d="M576.8,379.6H579.3 M578.0,386.0H579.3 M578.0,392.3H579.3 M578.0,398.7H579.3 M578.0,405.0H579.3 M576.8,411.4H579.3 M578.0,417.8H579.3 M578.0,424.1H579.3 M578.0,430.5H579.3 M578.0,436.8H579.3 M576.8,443.2H579.3 M578.0,449.6H579.3 M578.0,455.9H579.3 M578.0,462.3H579.3 M578.0,468.6H579.3 M576.8,475.0H579.3 M578.0,481.4H579.3 M578.0,487.7H579.3 M578.0,494.1H579.3 M578.0,500.4H579.3 M576.8,506.8H579.3 M578.0,513.2H579.3 M578.0,519.5H579.3 M578.0,525.9H579.3 M578.0,532.2H579.3 M576.8,538.6H579.3 M579.3,538.6V541.2 M586.2,538.6V539.9 M593.0,538.6V541.2 M599.9,538.6V539.9 M606.8,538.6V541.2 M613.7,538.6V539.9 M620.5,538.6V541.2 M627.4,538.6V539.9 M634.3,538.6V541.2 M641.2,538.6V539.9 M648.0,538.6V541.2 M654.9,538.6V539.9 M661.8,538.6V541.2 M668.7,538.6V539.9 M675.5,538.6V541.2 M682.4,538.6V539.9 M689.3,538.6V541.2 M696.1,538.6V539.9 M703.0,538.6V541.2 M709.9,538.6V539.9 M716.8,538.6V541.2 M723.6,538.6V539.9 M730.5,538.6V541.2 M737.4,538.6V539.9 M744.3,538.6V541.2 M751.1,538.6V539.9 M758.0,538.6V541.2 M764.9,538.6V539.9 M771.8,538.6V541.2 M778.6,538.6V539.9 M785.5,538.6V541.2 M785.5,538.6H788.2 M785.5,498.9H788.2 M785.5,459.1H788.2" stroke="#000" stroke-width="1.1" fill="none"/>
<text x="574.0" y="381.8" text-anchor="end" font-size="7.8">50</text>
<text x="574.0" y="413.6" text-anchor="end" font-size="7.8">25</text>
<text x="574.0" y="445.4" text-anchor="end" font-size="7.8">0</text>
<text x="574.0" y="477.2" text-anchor="end" font-size="7.8">-25</text>
<text x="574.0" y="509.0" text-anchor="end" font-size="7.8">-50</text>
<text x="574.0" y="540.8" text-anchor="end" font-size="7.8">-75</text>
<text x="579.3" y="550.0" text-anchor="middle" font-size="8.1">0</text>
<text x="620.5" y="550.0" text-anchor="middle" font-size="8.1">3</text>
<text x="661.8" y="550.0" text-anchor="middle" font-size="8.1">6</text>
<text x="703.0" y="550.0" text-anchor="middle" font-size="8.1">9</text>
<text x="744.3" y="550.0" text-anchor="middle" font-size="8.1">12</text>
<text x="785.5" y="550.0" text-anchor="middle" font-size="8.1">15</text>
<text x="789.8" y="540.4" font-size="8.2" textLength="15.0" lengthAdjust="spacingAndGlyphs">0.00</text>
<text x="789.8" y="500.7" font-size="8.2" textLength="15.0" lengthAdjust="spacingAndGlyphs">0.25</text>
<text x="789.8" y="460.9" font-size="8.2" textLength="15.0" lengthAdjust="spacingAndGlyphs">0.50</text>
<text x="689.1" y="560.2" text-anchor="middle" font-size="9.9">Energy (eV)</text>
<text transform="translate(558.7,457.9) rotate(-90)" text-anchor="middle" font-size="11.5"><tspan fill="#0d0dd8">&#949;<tspan font-size="7" dy="1.8">1</tspan></tspan><tspan dy="-1.8">, </tspan><tspan fill="#cc0a0a">&#949;<tspan font-size="7" dy="1.8">2</tspan></tspan></text>
<text transform="translate(816.9,494.2) rotate(-90)" text-anchor="middle" font-size="9.8">Im[&#949;<tspan font-size="6" dy="-3">-1</tspan><tspan dy="3">], </tspan><tspan fill="#f26a1b">Im[(&#949;-1)/(&#949;+2)]</tspan></text>
<text x="742.4" y="402.3" font-size="13.6">PdH</text>
<line x1="698.3" y1="423.5" x2="676.6" y2="423.5" stroke="#222" stroke-width="1.1"/>
<path d="M673.6,423.5 L678.4,421.3 L678.4,425.7 Z" fill="#000"/>
<line x1="691.2" y1="495.3" x2="713.1" y2="495.3" stroke="#222" stroke-width="1.1"/>
<path d="M716.1,495.3 L711.3,493.1 L711.3,497.5 Z" fill="#000"/>
</svg>
</body></html>
